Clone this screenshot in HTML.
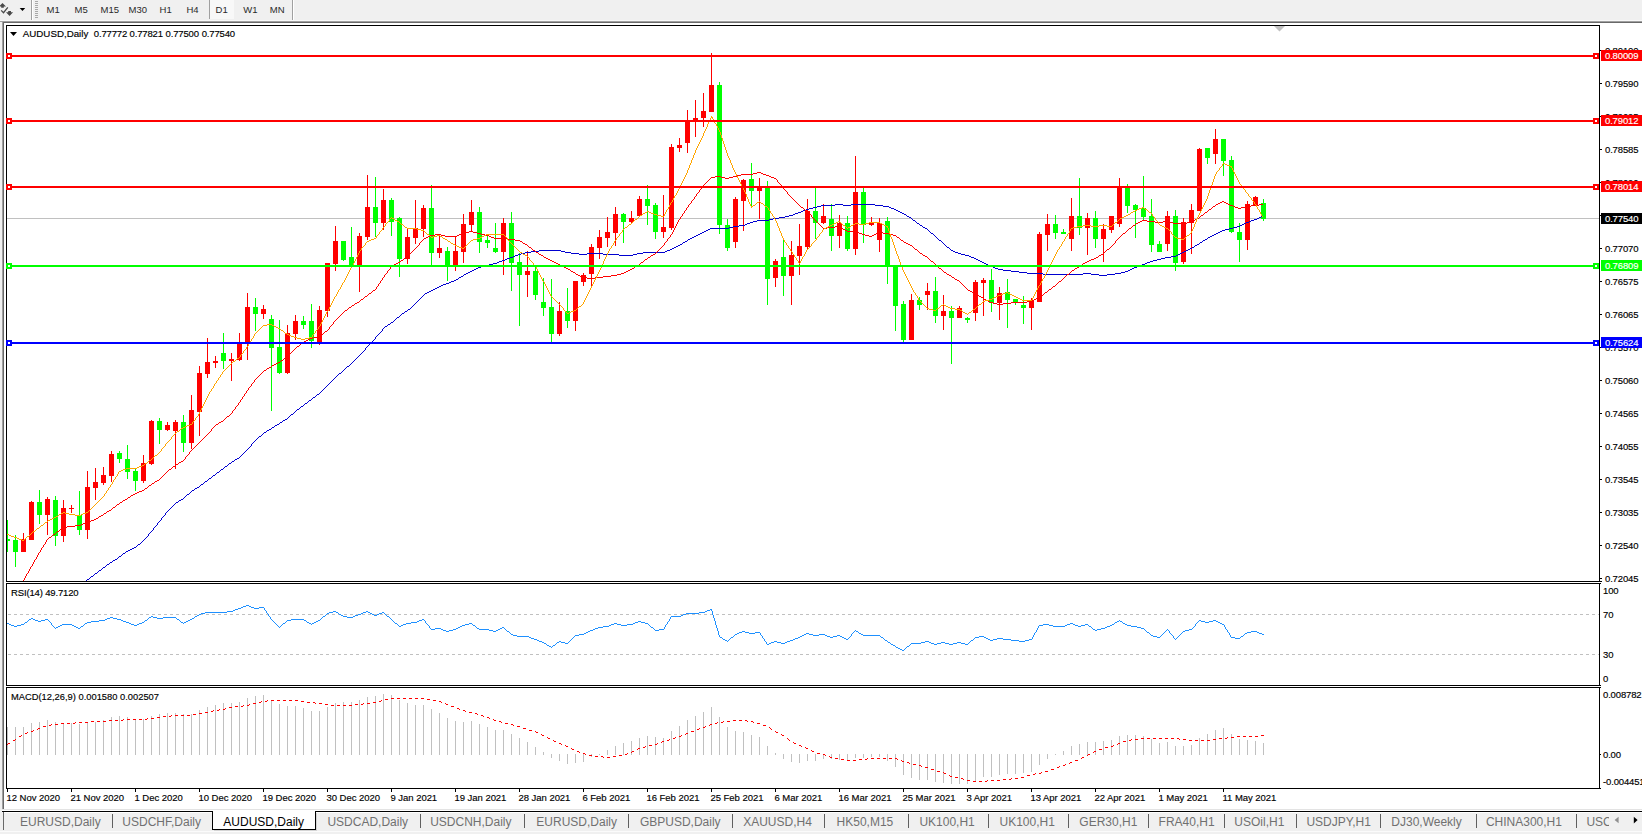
<!DOCTYPE html>
<html><head><meta charset="utf-8"><title>AUDUSD,Daily</title>
<style>
html,body{margin:0;padding:0;background:#f0f0f0;}
body{width:1642px;height:834px;overflow:hidden;position:relative;font-family:"Liberation Sans", sans-serif;}
svg{position:absolute;left:0;top:0;display:block}
text{font-family:"Liberation Sans", sans-serif;}
.s{font-size:9.5px;fill:#000;stroke:#000;stroke-width:0.15px}
.d{letter-spacing:-0.15px}
.tb{font-size:9.5px;fill:#2a2a2a}
.tab{font-size:12px;fill:#707070}
.w{fill:#fff;stroke:#fff}
</style></head><body>
<svg width="1642" height="834" viewBox="0 0 1642 834">

<g shape-rendering="crispEdges">
<rect x="0" y="0" width="1642" height="834" fill="#f0f0f0" />
<rect x="0" y="20" width="1642" height="1" fill="#f8f8f8" />
<rect x="0" y="21" width="1642" height="1" fill="#a0a0a0" />
<rect x="2" y="22" width="1640" height="1" fill="#696969" />
<rect x="4" y="23" width="1638" height="786" fill="#ffffff" />
<rect x="2" y="22" width="1" height="787" fill="#a0a0a0" />
<rect x="3" y="22" width="1" height="787" fill="#696969" />
<rect x="2" y="809" width="1640" height="1" fill="#e3e3e3" />
<rect x="2" y="810" width="1640" height="1" fill="#ffffff" />
<rect x="31" y="0" width="1" height="20" fill="#a0a0a0" />
<rect x="32" y="0" width="1" height="20" fill="#ffffff" />
<rect x="292" y="0" width="1" height="20" fill="#a0a0a0" />
<rect x="293" y="0" width="1" height="20" fill="#ffffff" />
<rect x="35" y="1" width="3" height="1" fill="#a8a8a8" />
<rect x="35" y="3" width="3" height="1" fill="#a8a8a8" />
<rect x="35" y="5" width="3" height="1" fill="#a8a8a8" />
<rect x="35" y="7" width="3" height="1" fill="#a8a8a8" />
<rect x="35" y="9" width="3" height="1" fill="#a8a8a8" />
<rect x="35" y="11" width="3" height="1" fill="#a8a8a8" />
<rect x="35" y="13" width="3" height="1" fill="#a8a8a8" />
<rect x="35" y="15" width="3" height="1" fill="#a8a8a8" />
<rect x="35" y="17" width="3" height="1" fill="#a8a8a8" />
<rect x="209" y="0" width="1" height="19" fill="#a0a0a0" />
<rect x="210" y="0" width="24" height="19" fill="#f8f8f8" />
<rect x="6" y="25" width="1594" height="1" fill="#000" />
<rect x="6" y="581" width="1594" height="1" fill="#000" />
<rect x="6" y="25" width="1" height="557" fill="#000" />
<rect x="1599" y="25" width="1" height="557" fill="#000" />
<rect x="6" y="583" width="1594" height="1" fill="#000" />
<rect x="6" y="685" width="1594" height="1" fill="#000" />
<rect x="6" y="583" width="1" height="103" fill="#000" />
<rect x="1599" y="583" width="1" height="103" fill="#000" />
<rect x="6" y="687" width="1594" height="1" fill="#000" />
<rect x="6" y="788" width="1594" height="1" fill="#000" />
<rect x="6" y="687" width="1" height="102" fill="#000" />
<rect x="1599" y="687" width="1" height="102" fill="#000" />
<rect x="1600" y="581" width="2" height="1" fill="#000" />
<rect x="1600" y="583" width="1" height="1" fill="#000" />
<rect x="1600" y="685" width="1" height="1" fill="#000" />
<rect x="1600" y="687" width="1" height="1" fill="#000" />
<rect x="1600" y="788" width="1" height="1" fill="#000" />
<rect x="1600" y="754" width="1" height="1" fill="#000" />
<polygon points="1274,26 1285,26 1279.5,31.5" fill="#c0c0c0" shape-rendering="geometricPrecision"/>
<rect x="7" y="218" width="1592" height="1" fill="#c0c0c0" />
<line x1="8" y1="614.5" x2="1599" y2="614.5" stroke="#c0c0c0" stroke-width="1" stroke-dasharray="3,3"/>
<line x1="8" y1="654.5" x2="1599" y2="654.5" stroke="#c0c0c0" stroke-width="1" stroke-dasharray="3,3"/>
<rect x="7" y="727" width="1" height="28" fill="#c0c0c0" />
<rect x="15" y="727" width="1" height="28" fill="#c0c0c0" />
<rect x="23" y="727" width="1" height="28" fill="#c0c0c0" />
<rect x="31" y="723" width="1" height="32" fill="#c0c0c0" />
<rect x="39" y="722" width="1" height="33" fill="#c0c0c0" />
<rect x="47" y="720" width="1" height="35" fill="#c0c0c0" />
<rect x="55" y="722" width="1" height="33" fill="#c0c0c0" />
<rect x="63" y="723" width="1" height="32" fill="#c0c0c0" />
<rect x="71" y="723" width="1" height="32" fill="#c0c0c0" />
<rect x="79" y="724" width="1" height="31" fill="#c0c0c0" />
<rect x="87" y="723" width="1" height="32" fill="#c0c0c0" />
<rect x="95" y="722" width="1" height="33" fill="#c0c0c0" />
<rect x="103" y="720" width="1" height="35" fill="#c0c0c0" />
<rect x="111" y="717" width="1" height="38" fill="#c0c0c0" />
<rect x="119" y="716" width="1" height="39" fill="#c0c0c0" />
<rect x="127" y="717" width="1" height="38" fill="#c0c0c0" />
<rect x="135" y="719" width="1" height="36" fill="#c0c0c0" />
<rect x="143" y="719" width="1" height="36" fill="#c0c0c0" />
<rect x="151" y="716" width="1" height="39" fill="#c0c0c0" />
<rect x="159" y="714" width="1" height="41" fill="#c0c0c0" />
<rect x="167" y="713" width="1" height="42" fill="#c0c0c0" />
<rect x="175" y="713" width="1" height="42" fill="#c0c0c0" />
<rect x="183" y="714" width="1" height="41" fill="#c0c0c0" />
<rect x="191" y="714" width="1" height="41" fill="#c0c0c0" />
<rect x="199" y="710" width="1" height="45" fill="#c0c0c0" />
<rect x="207" y="707" width="1" height="48" fill="#c0c0c0" />
<rect x="215" y="705" width="1" height="50" fill="#c0c0c0" />
<rect x="223" y="703" width="1" height="52" fill="#c0c0c0" />
<rect x="231" y="703" width="1" height="52" fill="#c0c0c0" />
<rect x="239" y="702" width="1" height="53" fill="#c0c0c0" />
<rect x="247" y="698" width="1" height="57" fill="#c0c0c0" />
<rect x="255" y="696" width="1" height="59" fill="#c0c0c0" />
<rect x="263" y="695" width="1" height="60" fill="#c0c0c0" />
<rect x="271" y="700" width="1" height="55" fill="#c0c0c0" />
<rect x="279" y="704" width="1" height="51" fill="#c0c0c0" />
<rect x="287" y="706" width="1" height="49" fill="#c0c0c0" />
<rect x="295" y="706" width="1" height="49" fill="#c0c0c0" />
<rect x="303" y="708" width="1" height="47" fill="#c0c0c0" />
<rect x="311" y="711" width="1" height="44" fill="#c0c0c0" />
<rect x="319" y="711" width="1" height="44" fill="#c0c0c0" />
<rect x="327" y="707" width="1" height="48" fill="#c0c0c0" />
<rect x="335" y="703" width="1" height="52" fill="#c0c0c0" />
<rect x="343" y="702" width="1" height="53" fill="#c0c0c0" />
<rect x="351" y="702" width="1" height="53" fill="#c0c0c0" />
<rect x="359" y="700" width="1" height="55" fill="#c0c0c0" />
<rect x="367" y="697" width="1" height="58" fill="#c0c0c0" />
<rect x="375" y="696" width="1" height="59" fill="#c0c0c0" />
<rect x="383" y="694" width="1" height="61" fill="#c0c0c0" />
<rect x="391" y="695" width="1" height="60" fill="#c0c0c0" />
<rect x="399" y="700" width="1" height="55" fill="#c0c0c0" />
<rect x="407" y="703" width="1" height="52" fill="#c0c0c0" />
<rect x="415" y="705" width="1" height="50" fill="#c0c0c0" />
<rect x="423" y="705" width="1" height="50" fill="#c0c0c0" />
<rect x="431" y="709" width="1" height="46" fill="#c0c0c0" />
<rect x="439" y="713" width="1" height="42" fill="#c0c0c0" />
<rect x="447" y="718" width="1" height="37" fill="#c0c0c0" />
<rect x="455" y="721" width="1" height="34" fill="#c0c0c0" />
<rect x="463" y="722" width="1" height="33" fill="#c0c0c0" />
<rect x="471" y="721" width="1" height="34" fill="#c0c0c0" />
<rect x="479" y="724" width="1" height="31" fill="#c0c0c0" />
<rect x="487" y="727" width="1" height="28" fill="#c0c0c0" />
<rect x="495" y="730" width="1" height="25" fill="#c0c0c0" />
<rect x="503" y="730" width="1" height="25" fill="#c0c0c0" />
<rect x="511" y="734" width="1" height="21" fill="#c0c0c0" />
<rect x="519" y="738" width="1" height="17" fill="#c0c0c0" />
<rect x="527" y="742" width="1" height="13" fill="#c0c0c0" />
<rect x="535" y="747" width="1" height="8" fill="#c0c0c0" />
<rect x="543" y="752" width="1" height="3" fill="#c0c0c0" />
<rect x="551" y="754" width="1" height="4" fill="#c0c0c0" />
<rect x="559" y="754" width="1" height="7" fill="#c0c0c0" />
<rect x="567" y="754" width="1" height="10" fill="#c0c0c0" />
<rect x="575" y="754" width="1" height="9" fill="#c0c0c0" />
<rect x="583" y="754" width="1" height="8" fill="#c0c0c0" />
<rect x="591" y="754" width="1" height="3" fill="#c0c0c0" />
<rect x="599" y="754" width="1" height="1" fill="#c0c0c0" />
<rect x="607" y="750" width="1" height="5" fill="#c0c0c0" />
<rect x="615" y="746" width="1" height="9" fill="#c0c0c0" />
<rect x="623" y="743" width="1" height="12" fill="#c0c0c0" />
<rect x="631" y="741" width="1" height="14" fill="#c0c0c0" />
<rect x="639" y="738" width="1" height="17" fill="#c0c0c0" />
<rect x="647" y="736" width="1" height="19" fill="#c0c0c0" />
<rect x="655" y="737" width="1" height="18" fill="#c0c0c0" />
<rect x="663" y="738" width="1" height="17" fill="#c0c0c0" />
<rect x="671" y="731" width="1" height="24" fill="#c0c0c0" />
<rect x="679" y="726" width="1" height="29" fill="#c0c0c0" />
<rect x="687" y="720" width="1" height="35" fill="#c0c0c0" />
<rect x="695" y="716" width="1" height="39" fill="#c0c0c0" />
<rect x="703" y="712" width="1" height="43" fill="#c0c0c0" />
<rect x="711" y="707" width="1" height="48" fill="#c0c0c0" />
<rect x="719" y="717" width="1" height="38" fill="#c0c0c0" />
<rect x="727" y="727" width="1" height="28" fill="#c0c0c0" />
<rect x="735" y="731" width="1" height="24" fill="#c0c0c0" />
<rect x="743" y="732" width="1" height="23" fill="#c0c0c0" />
<rect x="751" y="735" width="1" height="20" fill="#c0c0c0" />
<rect x="759" y="737" width="1" height="18" fill="#c0c0c0" />
<rect x="767" y="746" width="1" height="9" fill="#c0c0c0" />
<rect x="775" y="753" width="1" height="2" fill="#c0c0c0" />
<rect x="783" y="754" width="1" height="5" fill="#c0c0c0" />
<rect x="791" y="754" width="1" height="8" fill="#c0c0c0" />
<rect x="799" y="754" width="1" height="9" fill="#c0c0c0" />
<rect x="807" y="754" width="1" height="7" fill="#c0c0c0" />
<rect x="815" y="754" width="1" height="7" fill="#c0c0c0" />
<rect x="823" y="754" width="1" height="5" fill="#c0c0c0" />
<rect x="831" y="754" width="1" height="5" fill="#c0c0c0" />
<rect x="839" y="754" width="1" height="6" fill="#c0c0c0" />
<rect x="847" y="754" width="1" height="7" fill="#c0c0c0" />
<rect x="855" y="754" width="1" height="4" fill="#c0c0c0" />
<rect x="863" y="754" width="1" height="4" fill="#c0c0c0" />
<rect x="871" y="754" width="1" height="3" fill="#c0c0c0" />
<rect x="879" y="754" width="1" height="3" fill="#c0c0c0" />
<rect x="887" y="754" width="1" height="7" fill="#c0c0c0" />
<rect x="895" y="754" width="1" height="13" fill="#c0c0c0" />
<rect x="903" y="754" width="1" height="21" fill="#c0c0c0" />
<rect x="911" y="754" width="1" height="24" fill="#c0c0c0" />
<rect x="919" y="754" width="1" height="26" fill="#c0c0c0" />
<rect x="927" y="754" width="1" height="26" fill="#c0c0c0" />
<rect x="935" y="754" width="1" height="28" fill="#c0c0c0" />
<rect x="943" y="754" width="1" height="29" fill="#c0c0c0" />
<rect x="951" y="754" width="1" height="30" fill="#c0c0c0" />
<rect x="959" y="754" width="1" height="30" fill="#c0c0c0" />
<rect x="967" y="754" width="1" height="30" fill="#c0c0c0" />
<rect x="975" y="754" width="1" height="27" fill="#c0c0c0" />
<rect x="983" y="754" width="1" height="23" fill="#c0c0c0" />
<rect x="991" y="754" width="1" height="23" fill="#c0c0c0" />
<rect x="999" y="754" width="1" height="21" fill="#c0c0c0" />
<rect x="1007" y="754" width="1" height="20" fill="#c0c0c0" />
<rect x="1015" y="754" width="1" height="20" fill="#c0c0c0" />
<rect x="1023" y="754" width="1" height="19" fill="#c0c0c0" />
<rect x="1031" y="754" width="1" height="18" fill="#c0c0c0" />
<rect x="1039" y="754" width="1" height="11" fill="#c0c0c0" />
<rect x="1047" y="754" width="1" height="5" fill="#c0c0c0" />
<rect x="1055" y="754" width="1" height="1" fill="#c0c0c0" />
<rect x="1063" y="751" width="1" height="4" fill="#c0c0c0" />
<rect x="1071" y="746" width="1" height="9" fill="#c0c0c0" />
<rect x="1079" y="744" width="1" height="11" fill="#c0c0c0" />
<rect x="1087" y="742" width="1" height="13" fill="#c0c0c0" />
<rect x="1095" y="742" width="1" height="13" fill="#c0c0c0" />
<rect x="1103" y="741" width="1" height="14" fill="#c0c0c0" />
<rect x="1111" y="740" width="1" height="15" fill="#c0c0c0" />
<rect x="1119" y="736" width="1" height="19" fill="#c0c0c0" />
<rect x="1127" y="735" width="1" height="20" fill="#c0c0c0" />
<rect x="1135" y="735" width="1" height="20" fill="#c0c0c0" />
<rect x="1143" y="736" width="1" height="19" fill="#c0c0c0" />
<rect x="1151" y="739" width="1" height="16" fill="#c0c0c0" />
<rect x="1159" y="743" width="1" height="12" fill="#c0c0c0" />
<rect x="1167" y="742" width="1" height="13" fill="#c0c0c0" />
<rect x="1175" y="746" width="1" height="9" fill="#c0c0c0" />
<rect x="1183" y="746" width="1" height="9" fill="#c0c0c0" />
<rect x="1191" y="745" width="1" height="10" fill="#c0c0c0" />
<rect x="1199" y="738" width="1" height="17" fill="#c0c0c0" />
<rect x="1207" y="734" width="1" height="21" fill="#c0c0c0" />
<rect x="1215" y="730" width="1" height="25" fill="#c0c0c0" />
<rect x="1223" y="728" width="1" height="27" fill="#c0c0c0" />
<rect x="1231" y="734" width="1" height="21" fill="#c0c0c0" />
<rect x="1239" y="739" width="1" height="16" fill="#c0c0c0" />
<rect x="1247" y="740" width="1" height="15" fill="#c0c0c0" />
<rect x="1255" y="741" width="1" height="14" fill="#c0c0c0" />
<rect x="1263" y="743" width="1" height="12" fill="#c0c0c0" />
</g>
<defs><clipPath id="cm"><rect x="7" y="26" width="1592" height="555"/></clipPath></defs>
<g clip-path="url(#cm)" shape-rendering="crispEdges">
<rect x="7" y="520" width="1" height="32" fill="#00ff00" />
<rect x="5" y="539" width="5" height="2" fill="#00ff00" />
<rect x="15" y="535" width="1" height="32" fill="#00ff00" />
<rect x="13" y="540" width="5" height="12" fill="#00ff00" />
<rect x="23" y="533" width="1" height="19" fill="#ff0000" />
<rect x="21" y="539" width="5" height="13" fill="#ff0000" />
<rect x="31" y="501" width="1" height="39" fill="#ff0000" />
<rect x="29" y="502" width="5" height="38" fill="#ff0000" />
<rect x="39" y="490" width="1" height="34" fill="#00ff00" />
<rect x="37" y="502" width="5" height="13" fill="#00ff00" />
<rect x="47" y="497" width="1" height="38" fill="#ff0000" />
<rect x="45" y="499" width="5" height="16" fill="#ff0000" />
<rect x="55" y="496" width="1" height="50" fill="#00ff00" />
<rect x="53" y="500" width="5" height="36" fill="#00ff00" />
<rect x="63" y="500" width="1" height="42" fill="#ff0000" />
<rect x="61" y="508" width="5" height="28" fill="#ff0000" />
<rect x="71" y="505" width="1" height="8" fill="#ff0000" />
<rect x="69" y="508" width="5" height="1" fill="#ff0000" />
<rect x="79" y="491" width="1" height="44" fill="#00ff00" />
<rect x="77" y="515" width="5" height="15" fill="#00ff00" />
<rect x="87" y="471" width="1" height="68" fill="#ff0000" />
<rect x="85" y="487" width="5" height="43" fill="#ff0000" />
<rect x="95" y="468" width="1" height="32" fill="#ff0000" />
<rect x="93" y="482" width="5" height="6" fill="#ff0000" />
<rect x="103" y="467" width="1" height="18" fill="#ff0000" />
<rect x="101" y="475" width="5" height="8" fill="#ff0000" />
<rect x="111" y="451" width="1" height="31" fill="#ff0000" />
<rect x="109" y="454" width="5" height="22" fill="#ff0000" />
<rect x="119" y="451" width="1" height="12" fill="#00ff00" />
<rect x="117" y="453" width="5" height="6" fill="#00ff00" />
<rect x="127" y="445" width="1" height="34" fill="#00ff00" />
<rect x="125" y="459" width="5" height="13" fill="#00ff00" />
<rect x="135" y="469" width="1" height="22" fill="#00ff00" />
<rect x="133" y="471" width="5" height="10" fill="#00ff00" />
<rect x="143" y="455" width="1" height="28" fill="#ff0000" />
<rect x="141" y="463" width="5" height="18" fill="#ff0000" />
<rect x="151" y="420" width="1" height="45" fill="#ff0000" />
<rect x="149" y="421" width="5" height="43" fill="#ff0000" />
<rect x="159" y="418" width="1" height="26" fill="#00ff00" />
<rect x="157" y="421" width="5" height="9" fill="#00ff00" />
<rect x="167" y="422" width="1" height="9" fill="#ff0000" />
<rect x="165" y="425" width="5" height="5" fill="#ff0000" />
<rect x="175" y="420" width="1" height="49" fill="#ff0000" />
<rect x="173" y="422" width="5" height="9" fill="#ff0000" />
<rect x="183" y="415" width="1" height="37" fill="#00ff00" />
<rect x="181" y="422" width="5" height="21" fill="#00ff00" />
<rect x="191" y="395" width="1" height="54" fill="#ff0000" />
<rect x="189" y="410" width="5" height="33" fill="#ff0000" />
<rect x="199" y="366" width="1" height="70" fill="#ff0000" />
<rect x="197" y="373" width="5" height="39" fill="#ff0000" />
<rect x="207" y="338" width="1" height="40" fill="#ff0000" />
<rect x="205" y="362" width="5" height="12" fill="#ff0000" />
<rect x="215" y="356" width="1" height="12" fill="#ff0000" />
<rect x="213" y="361" width="5" height="2" fill="#ff0000" />
<rect x="223" y="333" width="1" height="36" fill="#00ff00" />
<rect x="221" y="353" width="5" height="8" fill="#00ff00" />
<rect x="231" y="353" width="1" height="28" fill="#ff0000" />
<rect x="229" y="359" width="5" height="2" fill="#ff0000" />
<rect x="239" y="333" width="1" height="28" fill="#ff0000" />
<rect x="237" y="344" width="5" height="16" fill="#ff0000" />
<rect x="247" y="293" width="1" height="67" fill="#ff0000" />
<rect x="245" y="307" width="5" height="37" fill="#ff0000" />
<rect x="255" y="298" width="1" height="33" fill="#00ff00" />
<rect x="253" y="307" width="5" height="7" fill="#00ff00" />
<rect x="263" y="305" width="1" height="14" fill="#ff0000" />
<rect x="261" y="309" width="5" height="5" fill="#ff0000" />
<rect x="271" y="315" width="1" height="96" fill="#00ff00" />
<rect x="269" y="319" width="5" height="29" fill="#00ff00" />
<rect x="279" y="320" width="1" height="54" fill="#00ff00" />
<rect x="277" y="347" width="5" height="26" fill="#00ff00" />
<rect x="287" y="325" width="1" height="49" fill="#ff0000" />
<rect x="285" y="333" width="5" height="40" fill="#ff0000" />
<rect x="295" y="315" width="1" height="25" fill="#ff0000" />
<rect x="293" y="321" width="5" height="13" fill="#ff0000" />
<rect x="303" y="316" width="1" height="13" fill="#00ff00" />
<rect x="301" y="321" width="5" height="4" fill="#00ff00" />
<rect x="311" y="304" width="1" height="44" fill="#00ff00" />
<rect x="309" y="321" width="5" height="20" fill="#00ff00" />
<rect x="319" y="306" width="1" height="39" fill="#ff0000" />
<rect x="317" y="310" width="5" height="32" fill="#ff0000" />
<rect x="327" y="263" width="1" height="54" fill="#ff0000" />
<rect x="325" y="263" width="5" height="48" fill="#ff0000" />
<rect x="335" y="226" width="1" height="45" fill="#ff0000" />
<rect x="333" y="241" width="5" height="23" fill="#ff0000" />
<rect x="343" y="241" width="1" height="20" fill="#00ff00" />
<rect x="341" y="241" width="5" height="19" fill="#00ff00" />
<rect x="351" y="227" width="1" height="40" fill="#00ff00" />
<rect x="349" y="257" width="5" height="9" fill="#00ff00" />
<rect x="359" y="233" width="1" height="59" fill="#ff0000" />
<rect x="357" y="236" width="5" height="29" fill="#ff0000" />
<rect x="367" y="175" width="1" height="65" fill="#ff0000" />
<rect x="365" y="207" width="5" height="30" fill="#ff0000" />
<rect x="375" y="177" width="1" height="60" fill="#00ff00" />
<rect x="373" y="207" width="5" height="16" fill="#00ff00" />
<rect x="383" y="189" width="1" height="41" fill="#ff0000" />
<rect x="381" y="200" width="5" height="23" fill="#ff0000" />
<rect x="391" y="198" width="1" height="38" fill="#00ff00" />
<rect x="389" y="200" width="5" height="22" fill="#00ff00" />
<rect x="399" y="217" width="1" height="60" fill="#00ff00" />
<rect x="397" y="218" width="5" height="41" fill="#00ff00" />
<rect x="407" y="228" width="1" height="36" fill="#ff0000" />
<rect x="405" y="237" width="5" height="22" fill="#ff0000" />
<rect x="415" y="200" width="1" height="44" fill="#ff0000" />
<rect x="413" y="228" width="5" height="10" fill="#ff0000" />
<rect x="423" y="205" width="1" height="32" fill="#ff0000" />
<rect x="421" y="208" width="5" height="21" fill="#ff0000" />
<rect x="431" y="185" width="1" height="81" fill="#00ff00" />
<rect x="429" y="208" width="5" height="45" fill="#00ff00" />
<rect x="439" y="236" width="1" height="22" fill="#ff0000" />
<rect x="437" y="248" width="5" height="5" fill="#ff0000" />
<rect x="447" y="247" width="1" height="34" fill="#00ff00" />
<rect x="445" y="251" width="5" height="15" fill="#00ff00" />
<rect x="455" y="236" width="1" height="35" fill="#ff0000" />
<rect x="453" y="251" width="5" height="15" fill="#ff0000" />
<rect x="463" y="214" width="1" height="49" fill="#ff0000" />
<rect x="461" y="224" width="5" height="28" fill="#ff0000" />
<rect x="471" y="200" width="1" height="31" fill="#ff0000" />
<rect x="469" y="212" width="5" height="13" fill="#ff0000" />
<rect x="479" y="207" width="1" height="46" fill="#00ff00" />
<rect x="477" y="212" width="5" height="30" fill="#00ff00" />
<rect x="487" y="236" width="1" height="12" fill="#00ff00" />
<rect x="485" y="240" width="5" height="3" fill="#00ff00" />
<rect x="495" y="223" width="1" height="30" fill="#00ff00" />
<rect x="493" y="248" width="5" height="4" fill="#00ff00" />
<rect x="503" y="218" width="1" height="57" fill="#ff0000" />
<rect x="501" y="223" width="5" height="29" fill="#ff0000" />
<rect x="511" y="212" width="1" height="79" fill="#00ff00" />
<rect x="509" y="223" width="5" height="40" fill="#00ff00" />
<rect x="519" y="253" width="1" height="73" fill="#00ff00" />
<rect x="517" y="262" width="5" height="13" fill="#00ff00" />
<rect x="527" y="251" width="1" height="46" fill="#ff0000" />
<rect x="525" y="271" width="5" height="4" fill="#ff0000" />
<rect x="535" y="267" width="1" height="33" fill="#00ff00" />
<rect x="533" y="271" width="5" height="24" fill="#00ff00" />
<rect x="543" y="278" width="1" height="38" fill="#00ff00" />
<rect x="541" y="302" width="5" height="6" fill="#00ff00" />
<rect x="551" y="279" width="1" height="63" fill="#00ff00" />
<rect x="549" y="307" width="5" height="27" fill="#00ff00" />
<rect x="559" y="302" width="1" height="34" fill="#ff0000" />
<rect x="557" y="311" width="5" height="23" fill="#ff0000" />
<rect x="567" y="288" width="1" height="40" fill="#00ff00" />
<rect x="565" y="311" width="5" height="10" fill="#00ff00" />
<rect x="575" y="281" width="1" height="50" fill="#ff0000" />
<rect x="573" y="281" width="5" height="40" fill="#ff0000" />
<rect x="583" y="273" width="1" height="13" fill="#ff0000" />
<rect x="581" y="275" width="5" height="7" fill="#ff0000" />
<rect x="591" y="244" width="1" height="43" fill="#ff0000" />
<rect x="589" y="247" width="5" height="27" fill="#ff0000" />
<rect x="599" y="230" width="1" height="29" fill="#ff0000" />
<rect x="597" y="237" width="5" height="11" fill="#ff0000" />
<rect x="607" y="217" width="1" height="30" fill="#ff0000" />
<rect x="605" y="232" width="5" height="6" fill="#ff0000" />
<rect x="615" y="207" width="1" height="39" fill="#ff0000" />
<rect x="613" y="214" width="5" height="19" fill="#ff0000" />
<rect x="623" y="213" width="1" height="30" fill="#00ff00" />
<rect x="621" y="214" width="5" height="8" fill="#00ff00" />
<rect x="631" y="211" width="1" height="13" fill="#ff0000" />
<rect x="629" y="218" width="5" height="4" fill="#ff0000" />
<rect x="639" y="196" width="1" height="20" fill="#ff0000" />
<rect x="637" y="199" width="5" height="17" fill="#ff0000" />
<rect x="647" y="185" width="1" height="40" fill="#00ff00" />
<rect x="645" y="199" width="5" height="7" fill="#00ff00" />
<rect x="655" y="203" width="1" height="36" fill="#00ff00" />
<rect x="653" y="205" width="5" height="27" fill="#00ff00" />
<rect x="663" y="195" width="1" height="43" fill="#ff0000" />
<rect x="661" y="227" width="5" height="5" fill="#ff0000" />
<rect x="671" y="144" width="1" height="86" fill="#ff0000" />
<rect x="669" y="147" width="5" height="81" fill="#ff0000" />
<rect x="679" y="138" width="1" height="14" fill="#ff0000" />
<rect x="677" y="145" width="5" height="3" fill="#ff0000" />
<rect x="687" y="110" width="1" height="43" fill="#ff0000" />
<rect x="685" y="121" width="5" height="22" fill="#ff0000" />
<rect x="695" y="100" width="1" height="37" fill="#ff0000" />
<rect x="693" y="118" width="5" height="3" fill="#ff0000" />
<rect x="703" y="93" width="1" height="34" fill="#ff0000" />
<rect x="701" y="111" width="5" height="7" fill="#ff0000" />
<rect x="711" y="53" width="1" height="59" fill="#ff0000" />
<rect x="709" y="85" width="5" height="27" fill="#ff0000" />
<rect x="719" y="82" width="1" height="152" fill="#00ff00" />
<rect x="717" y="85" width="5" height="140" fill="#00ff00" />
<rect x="727" y="219" width="1" height="32" fill="#00ff00" />
<rect x="725" y="225" width="5" height="23" fill="#00ff00" />
<rect x="735" y="197" width="1" height="51" fill="#ff0000" />
<rect x="733" y="199" width="5" height="43" fill="#ff0000" />
<rect x="743" y="179" width="1" height="52" fill="#ff0000" />
<rect x="741" y="180" width="5" height="21" fill="#ff0000" />
<rect x="751" y="163" width="1" height="45" fill="#00ff00" />
<rect x="749" y="179" width="5" height="12" fill="#00ff00" />
<rect x="759" y="178" width="1" height="41" fill="#ff0000" />
<rect x="757" y="186" width="5" height="5" fill="#ff0000" />
<rect x="767" y="181" width="1" height="124" fill="#00ff00" />
<rect x="765" y="188" width="5" height="91" fill="#00ff00" />
<rect x="775" y="259" width="1" height="28" fill="#ff0000" />
<rect x="773" y="261" width="5" height="17" fill="#ff0000" />
<rect x="783" y="239" width="1" height="57" fill="#00ff00" />
<rect x="781" y="257" width="5" height="19" fill="#00ff00" />
<rect x="791" y="241" width="1" height="64" fill="#ff0000" />
<rect x="789" y="255" width="5" height="21" fill="#ff0000" />
<rect x="799" y="224" width="1" height="51" fill="#ff0000" />
<rect x="797" y="246" width="5" height="10" fill="#ff0000" />
<rect x="807" y="199" width="1" height="51" fill="#ff0000" />
<rect x="805" y="211" width="5" height="36" fill="#ff0000" />
<rect x="815" y="188" width="1" height="51" fill="#00ff00" />
<rect x="813" y="211" width="5" height="12" fill="#00ff00" />
<rect x="823" y="204" width="1" height="20" fill="#ff0000" />
<rect x="821" y="216" width="5" height="7" fill="#ff0000" />
<rect x="831" y="204" width="1" height="47" fill="#00ff00" />
<rect x="829" y="219" width="5" height="17" fill="#00ff00" />
<rect x="839" y="215" width="1" height="33" fill="#ff0000" />
<rect x="837" y="223" width="5" height="13" fill="#ff0000" />
<rect x="847" y="216" width="1" height="35" fill="#00ff00" />
<rect x="845" y="223" width="5" height="26" fill="#00ff00" />
<rect x="855" y="156" width="1" height="99" fill="#ff0000" />
<rect x="853" y="192" width="5" height="57" fill="#ff0000" />
<rect x="863" y="188" width="1" height="55" fill="#00ff00" />
<rect x="861" y="192" width="5" height="33" fill="#00ff00" />
<rect x="871" y="217" width="1" height="9" fill="#ff0000" />
<rect x="869" y="223" width="5" height="2" fill="#ff0000" />
<rect x="879" y="218" width="1" height="34" fill="#ff0000" />
<rect x="877" y="223" width="5" height="17" fill="#ff0000" />
<rect x="887" y="217" width="1" height="67" fill="#00ff00" />
<rect x="885" y="221" width="5" height="45" fill="#00ff00" />
<rect x="895" y="266" width="1" height="65" fill="#00ff00" />
<rect x="893" y="266" width="5" height="40" fill="#00ff00" />
<rect x="903" y="301" width="1" height="41" fill="#00ff00" />
<rect x="901" y="304" width="5" height="36" fill="#00ff00" />
<rect x="911" y="294" width="1" height="46" fill="#ff0000" />
<rect x="909" y="300" width="5" height="40" fill="#ff0000" />
<rect x="919" y="297" width="1" height="13" fill="#00ff00" />
<rect x="917" y="300" width="5" height="5" fill="#00ff00" />
<rect x="927" y="283" width="1" height="27" fill="#ff0000" />
<rect x="925" y="291" width="5" height="4" fill="#ff0000" />
<rect x="935" y="277" width="1" height="46" fill="#00ff00" />
<rect x="933" y="291" width="5" height="25" fill="#00ff00" />
<rect x="943" y="295" width="1" height="35" fill="#ff0000" />
<rect x="941" y="311" width="5" height="5" fill="#ff0000" />
<rect x="951" y="306" width="1" height="58" fill="#00ff00" />
<rect x="949" y="311" width="5" height="7" fill="#00ff00" />
<rect x="959" y="306" width="1" height="12" fill="#ff0000" />
<rect x="957" y="308" width="5" height="10" fill="#ff0000" />
<rect x="967" y="317" width="1" height="6" fill="#00ff00" />
<rect x="965" y="318" width="5" height="2" fill="#00ff00" />
<rect x="975" y="280" width="1" height="41" fill="#ff0000" />
<rect x="973" y="282" width="5" height="31" fill="#ff0000" />
<rect x="983" y="278" width="1" height="38" fill="#ff0000" />
<rect x="981" y="280" width="5" height="3" fill="#ff0000" />
<rect x="991" y="269" width="1" height="43" fill="#00ff00" />
<rect x="989" y="280" width="5" height="23" fill="#00ff00" />
<rect x="999" y="287" width="1" height="33" fill="#ff0000" />
<rect x="997" y="293" width="5" height="10" fill="#ff0000" />
<rect x="1007" y="279" width="1" height="49" fill="#00ff00" />
<rect x="1005" y="292" width="5" height="8" fill="#00ff00" />
<rect x="1015" y="299" width="1" height="6" fill="#00ff00" />
<rect x="1013" y="299" width="5" height="4" fill="#00ff00" />
<rect x="1023" y="296" width="1" height="28" fill="#00ff00" />
<rect x="1021" y="305" width="5" height="3" fill="#00ff00" />
<rect x="1031" y="298" width="1" height="32" fill="#ff0000" />
<rect x="1029" y="301" width="5" height="7" fill="#ff0000" />
<rect x="1039" y="232" width="1" height="70" fill="#ff0000" />
<rect x="1037" y="234" width="5" height="68" fill="#ff0000" />
<rect x="1047" y="214" width="1" height="37" fill="#ff0000" />
<rect x="1045" y="224" width="5" height="11" fill="#ff0000" />
<rect x="1055" y="215" width="1" height="24" fill="#00ff00" />
<rect x="1053" y="224" width="5" height="9" fill="#00ff00" />
<rect x="1063" y="229" width="1" height="5" fill="#00ff00" />
<rect x="1061" y="232" width="5" height="2" fill="#00ff00" />
<rect x="1071" y="198" width="1" height="53" fill="#ff0000" />
<rect x="1069" y="216" width="5" height="23" fill="#ff0000" />
<rect x="1079" y="178" width="1" height="57" fill="#00ff00" />
<rect x="1077" y="216" width="5" height="12" fill="#00ff00" />
<rect x="1087" y="213" width="1" height="42" fill="#ff0000" />
<rect x="1085" y="218" width="5" height="10" fill="#ff0000" />
<rect x="1095" y="211" width="1" height="37" fill="#00ff00" />
<rect x="1093" y="218" width="5" height="21" fill="#00ff00" />
<rect x="1103" y="224" width="1" height="38" fill="#ff0000" />
<rect x="1101" y="229" width="5" height="10" fill="#ff0000" />
<rect x="1111" y="216" width="1" height="17" fill="#ff0000" />
<rect x="1109" y="216" width="5" height="14" fill="#ff0000" />
<rect x="1119" y="178" width="1" height="49" fill="#ff0000" />
<rect x="1117" y="187" width="5" height="37" fill="#ff0000" />
<rect x="1127" y="184" width="1" height="29" fill="#00ff00" />
<rect x="1125" y="188" width="5" height="18" fill="#00ff00" />
<rect x="1135" y="204" width="1" height="34" fill="#00ff00" />
<rect x="1133" y="205" width="5" height="5" fill="#00ff00" />
<rect x="1143" y="176" width="1" height="45" fill="#00ff00" />
<rect x="1141" y="208" width="5" height="9" fill="#00ff00" />
<rect x="1151" y="199" width="1" height="53" fill="#00ff00" />
<rect x="1149" y="216" width="5" height="29" fill="#00ff00" />
<rect x="1159" y="241" width="1" height="11" fill="#00ff00" />
<rect x="1157" y="244" width="5" height="8" fill="#00ff00" />
<rect x="1167" y="211" width="1" height="40" fill="#ff0000" />
<rect x="1165" y="216" width="5" height="28" fill="#ff0000" />
<rect x="1175" y="210" width="1" height="61" fill="#00ff00" />
<rect x="1173" y="216" width="5" height="47" fill="#00ff00" />
<rect x="1183" y="218" width="1" height="46" fill="#ff0000" />
<rect x="1181" y="222" width="5" height="40" fill="#ff0000" />
<rect x="1191" y="204" width="1" height="50" fill="#ff0000" />
<rect x="1189" y="210" width="5" height="13" fill="#ff0000" />
<rect x="1199" y="148" width="1" height="63" fill="#ff0000" />
<rect x="1197" y="149" width="5" height="62" fill="#ff0000" />
<rect x="1207" y="148" width="1" height="16" fill="#00ff00" />
<rect x="1205" y="148" width="5" height="10" fill="#00ff00" />
<rect x="1215" y="129" width="1" height="35" fill="#ff0000" />
<rect x="1213" y="139" width="5" height="15" fill="#ff0000" />
<rect x="1223" y="139" width="1" height="37" fill="#00ff00" />
<rect x="1221" y="139" width="5" height="22" fill="#00ff00" />
<rect x="1231" y="156" width="1" height="77" fill="#00ff00" />
<rect x="1229" y="160" width="5" height="72" fill="#00ff00" />
<rect x="1239" y="223" width="1" height="39" fill="#00ff00" />
<rect x="1237" y="232" width="5" height="8" fill="#00ff00" />
<rect x="1247" y="201" width="1" height="49" fill="#ff0000" />
<rect x="1245" y="204" width="5" height="36" fill="#ff0000" />
<rect x="1255" y="196" width="1" height="9" fill="#ff0000" />
<rect x="1253" y="197" width="5" height="8" fill="#ff0000" />
<rect x="1263" y="199" width="1" height="22" fill="#00ff00" />
<rect x="1261" y="203" width="5" height="16" fill="#00ff00" />
<path d="M382 329h1v2h-1zM365 348h1v2h-1zM165 513h1v2h-1zM157 523h1v2h-1zM153 528h1v2h-1zM251 444h1v2h-1zM161 518h1v2h-1zM148 534h1v2h-1zM375 337h1v2h-1zM518 254h3v1h-3zM579 254h8v1h-8zM603 254h16v1h-16zM633 254h4v1h-4zM961 254h4v1h-4zM1178 254h2v1h-2zM464 274h2v1h-2zM1043 274h40v1h-40zM1091 274h8v1h-8zM1107 274h8v1h-8zM696 235h2v1h-2zM934 235h1v1h-1zM1212 235h2v1h-2zM478 267h3v1h-3zM993 267h2v1h-2zM1134 267h3v1h-3zM295 411h1v1h-1zM817 206h4v1h-4zM883 206h6v1h-6zM283 420h2v1h-2zM413 305h1v1h-1zM704 231h2v1h-2zM929 231h1v1h-1zM1220 231h2v1h-2zM779 217h6v1h-6zM909 217h2v1h-2zM1259 217h2v1h-2zM466 273h2v1h-2zM1027 273h16v1h-16zM1083 273h8v1h-8zM1115 273h6v1h-6zM370 343h1v1h-1zM525 252h6v1h-6zM565 252h6v1h-6zM643 252h22v1h-22zM955 252h3v1h-3zM1182 252h2v1h-2zM197 487h2v1h-2zM435 288h2v1h-2zM795 213h3v1h-3zM902 213h2v1h-2zM499 261h3v1h-3zM980 261h2v1h-2zM1150 261h3v1h-3zM472 270h2v1h-2zM1003 270h8v1h-8zM1128 270h2v1h-2zM702 232h2v1h-2zM930 232h1v1h-1zM1218 232h2v1h-2zM773 218h6v1h-6zM911 218h1v1h-1zM1257 218h2v1h-2zM288 417h1v1h-1zM539 250h22v1h-22zM667 250h3v1h-3zM951 250h2v1h-2zM1186 250h2v1h-2zM339 373h2v1h-2zM502 260h3v1h-3zM978 260h2v1h-2zM1153 260h4v1h-4zM835 204h8v1h-8zM851 204h24v1h-24zM700 233h2v1h-2zM931 233h2v1h-2zM1216 233h2v1h-2zM733 226h6v1h-6zM922 226h1v1h-1zM1237 226h3v1h-3zM470 271h2v1h-2zM1011 271h8v1h-8zM1125 271h3v1h-3zM793 214h2v1h-2zM904 214h2v1h-2zM729 227h4v1h-4zM923 227h2v1h-2zM1233 227h4v1h-4zM105 566h1v1h-1zM245 451h1v1h-1zM789 215h4v1h-4zM906 215h1v1h-1zM710 228h19v1h-19zM925 228h2v1h-2zM1229 228h4v1h-4zM801 211h2v1h-2zM898 211h2v1h-2zM757 220h12v1h-12zM913 220h2v1h-2zM1251 220h3v1h-3zM813 207h4v1h-4zM889 207h2v1h-2zM163 516h1v1h-1zM117 558h1v1h-1zM468 272h2v1h-2zM1019 272h8v1h-8zM1121 272h4v1h-4zM505 259h2v1h-2zM976 259h2v1h-2zM1157 259h4v1h-4zM769 219h4v1h-4zM912 219h1v1h-1zM1254 219h3v1h-3zM109 563h1v1h-1zM672 248h2v1h-2zM949 248h1v1h-1zM1190 248h2v1h-2zM531 251h8v1h-8zM561 251h4v1h-4zM665 251h2v1h-2zM953 251h2v1h-2zM1184 251h2v1h-2zM688 239h2v1h-2zM938 239h1v1h-1zM1205 239h2v1h-2zM128 550h2v1h-2zM513 256h2v1h-2zM969 256h2v1h-2zM1171 256h5v1h-5zM680 244h2v1h-2zM944 244h1v1h-1zM1197 244h2v1h-2zM121 555h1v1h-1zM821 205h14v1h-14zM843 205h8v1h-8zM875 205h8v1h-8zM327 385h1v1h-1zM362 352h1v1h-1zM739 225h6v1h-6zM920 225h2v1h-2zM1240 225h2v1h-2zM485 265h4v1h-4zM988 265h2v1h-2zM1139 265h3v1h-3zM113 560h2v1h-2zM155 526h1v1h-1zM385 326h2v1h-2zM456 279h2v1h-2zM521 253h4v1h-4zM571 253h8v1h-8zM587 253h16v1h-16zM637 253h6v1h-6zM958 253h3v1h-3zM1180 253h2v1h-2zM275 425h2v1h-2zM806 209h3v1h-3zM894 209h2v1h-2zM264 432h2v1h-2zM134 547h2v1h-2zM205 481h2v1h-2zM190 492h1v1h-1zM235 459h2v1h-2zM299 408h1v1h-1zM497 262h2v1h-2zM982 262h2v1h-2zM1147 262h3v1h-3zM692 237h2v1h-2zM936 237h1v1h-1zM1208 237h2v1h-2zM474 269h2v1h-2zM998 269h5v1h-5zM1130 269h2v1h-2zM420 298h1v1h-1zM683 242h2v1h-2zM942 242h1v1h-1zM1200 242h2v1h-2zM676 246h2v1h-2zM946 246h1v1h-1zM1194 246h1v1h-1zM280 422h2v1h-2zM201 484h2v1h-2zM346 367h1v1h-1zM138 544h2v1h-2zM272 427h2v1h-2zM194 489h1v1h-1zM257 438h1v1h-1zM303 405h1v1h-1zM431 290h2v1h-2zM183 498h1v1h-1zM291 414h2v1h-2zM515 255h3v1h-3zM619 255h14v1h-14zM965 255h4v1h-4zM1176 255h2v1h-2zM175 503h1v1h-1zM698 234h2v1h-2zM933 234h1v1h-1zM1214 234h2v1h-2zM350 364h1v1h-1zM463 275h1v1h-1zM1099 275h8v1h-8zM261 435h1v1h-1zM307 402h1v1h-1zM427 292h2v1h-2zM330 382h1v1h-1zM694 236h2v1h-2zM935 236h1v1h-1zM1210 236h2v1h-2zM451 281h3v1h-3zM745 224h2v1h-2zM919 224h1v1h-1zM1242 224h2v1h-2zM489 264h4v1h-4zM986 264h2v1h-2zM1142 264h3v1h-3zM476 268h2v1h-2zM995 268h3v1h-3zM1132 268h2v1h-2zM750 222h3v1h-3zM916 222h1v1h-1zM1246 222h3v1h-3zM708 229h2v1h-2zM927 229h1v1h-1zM1225 229h4v1h-4zM400 315h1v1h-1zM388 324h2v1h-2zM507 258h3v1h-3zM974 258h2v1h-2zM1161 258h4v1h-4zM446 283h3v1h-3zM404 312h1v1h-1zM151 531h1v1h-1zM393 321h1v1h-1zM249 447h1v1h-1zM809 208h4v1h-4zM891 208h3v1h-3zM674 247h2v1h-2zM947 247h2v1h-2zM1192 247h2v1h-2zM209 478h2v1h-2zM317 394h2v1h-2zM240 456h1v1h-1zM481 266h4v1h-4zM990 266h3v1h-3zM1137 266h2v1h-2zM130 549h2v1h-2zM91 576h2v1h-2zM232 461h2v1h-2zM510 257h3v1h-3zM971 257h3v1h-3zM1165 257h6v1h-6zM785 216h4v1h-4zM907 216h2v1h-2zM1261 216h2v1h-2zM115 559h2v1h-2zM213 475h2v1h-2zM461 276h2v1h-2zM670 249h2v1h-2zM950 249h1v1h-1zM1188 249h2v1h-2zM126 551h2v1h-2zM217 472h2v1h-2zM357 357h1v1h-1zM377 335h1v1h-1zM311 399h1v1h-1zM85 581h1v1h-1zM424 294h1v1h-1zM337 375h1v1h-1zM706 230h2v1h-2zM928 230h1v1h-1zM1222 230h3v1h-3zM798 212h3v1h-3zM900 212h2v1h-2zM690 238h2v1h-2zM937 238h1v1h-1zM1207 238h1v1h-1zM255 440h1v1h-1zM176 502h2v1h-2zM415 303h1v1h-1zM341 372h1v1h-1zM252 443h1v1h-1zM170 508h1v1h-1zM408 309h2v1h-2zM334 378h1v1h-1zM803 210h3v1h-3zM896 210h2v1h-2zM412 306h1v1h-1zM325 387h1v1h-1zM107 564h2v1h-2zM380 332h1v1h-1zM95 573h2v1h-2zM449 282h2v1h-2zM119 556h2v1h-2zM458 278h1v1h-1zM99 570h2v1h-2zM146 537h1v1h-1zM493 263h4v1h-4zM984 263h2v1h-2zM1145 263h2v1h-2zM123 553h2v1h-2zM221 469h2v1h-2zM364 350h1v1h-1zM753 221h4v1h-4zM915 221h1v1h-1zM1249 221h2v1h-2zM143 540h1v1h-1zM322 390h1v1h-1zM103 567h2v1h-2zM244 452h1v1h-1zM454 280h2v1h-2zM195 488h2v1h-2zM181 499h2v1h-2zM433 289h2v1h-2zM290 415h1v1h-1zM687 240h1v1h-1zM939 240h2v1h-2zM1203 240h2v1h-2zM678 245h2v1h-2zM945 245h1v1h-1zM1195 245h2v1h-2zM372 341h1v1h-1zM185 496h1v1h-1zM154 527h1v1h-1zM294 412h1v1h-1zM429 291h2v1h-2zM685 241h2v1h-2zM941 241h1v1h-1zM1202 241h1v1h-1zM352 362h1v1h-1zM189 493h1v1h-1zM297 409h2v1h-2zM419 299h1v1h-1zM149 533h1v1h-1zM247 449h1v1h-1zM443 284h3v1h-3zM402 313h2v1h-2zM391 322h2v1h-2zM162 517h1v1h-1zM395 319h1v1h-1zM329 383h1v1h-1zM200 485h1v1h-1zM137 545h1v1h-1zM192 490h2v1h-2zM301 406h2v1h-2zM223 468h1v1h-1zM422 296h1v1h-1zM204 482h1v1h-1zM259 436h2v1h-2zM305 403h2v1h-2zM227 465h1v1h-1zM425 293h2v1h-2zM208 479h1v1h-1zM271 428h1v1h-1zM239 457h1v1h-1zM263 433h1v1h-1zM367 346h1v1h-1zM172 506h1v1h-1zM399 316h1v1h-1zM336 376h1v1h-1zM141 542h1v1h-1zM98 571h1v1h-1zM459 277h2v1h-2zM242 454h1v1h-1zM125 552h1v1h-1zM102 568h1v1h-1zM309 400h2v1h-2zM231 462h1v1h-1zM212 476h1v1h-1zM682 243h1v1h-1zM943 243h1v1h-1zM1199 243h1v1h-1zM324 388h1v1h-1zM106 565h1v1h-1zM359 355h1v1h-1zM379 333h1v1h-1zM313 397h2v1h-2zM87 579h2v1h-2zM747 223h3v1h-3zM917 223h2v1h-2zM1244 223h2v1h-2zM118 557h1v1h-1zM179 500h2v1h-2zM417 301h1v1h-1zM374 339h1v1h-1zM343 370h1v1h-1zM156 525h1v1h-1zM254 441h1v1h-1zM285 419h2v1h-2zM277 424h2v1h-2zM441 285h2v1h-2zM269 429h2v1h-2zM289 416h1v1h-1zM169 509h1v1h-1zM414 304h1v1h-1zM164 515h1v1h-1zM110 562h2v1h-2zM331 381h1v1h-1zM145 538h1v1h-1zM246 450h1v1h-1zM390 323h1v1h-1zM315 396h1v1h-1zM89 578h1v1h-1zM187 494h2v1h-2zM296 410h1v1h-1zM319 393h1v1h-1zM199 486h1v1h-1zM437 287h2v1h-2zM191 491h1v1h-1zM300 407h1v1h-1zM421 297h1v1h-1zM369 344h1v1h-1zM397 317h2v1h-2zM394 320h1v1h-1zM159 521h1v1h-1zM225 466h2v1h-2zM354 360h1v1h-1zM136 546h1v1h-1zM93 575h1v1h-1zM237 458h2v1h-2zM229 463h2v1h-2zM347 366h2v1h-2zM140 543h1v1h-1zM381 331h1v1h-1zM97 572h1v1h-1zM241 455h1v1h-1zM304 404h1v1h-1zM132 548h2v1h-2zM101 569h1v1h-1zM287 418h1v1h-1zM167 511h1v1h-1zM279 423h1v1h-1zM345 368h1v1h-1zM256 439h1v1h-1zM366 347h1v1h-1zM401 314h1v1h-1zM338 374h1v1h-1zM416 302h1v1h-1zM405 311h2v1h-2zM361 353h1v1h-1zM112 561h1v1h-1zM147 536h1v1h-1zM326 386h1v1h-1zM248 448h1v1h-1zM174 504h1v1h-1zM349 365h1v1h-1zM439 286h2v1h-2zM267 430h2v1h-2zM178 501h1v1h-1zM373 340h1v1h-1zM342 371h1v1h-1zM171 507h1v1h-1zM423 295h1v1h-1zM384 327h1v1h-1zM407 310h1v1h-1zM333 379h1v1h-1zM216 473h1v1h-1zM356 358h1v1h-1zM220 470h1v1h-1zM243 453h1v1h-1zM376 336h1v1h-1zM186 495h1v1h-1zM158 522h1v1h-1zM224 467h1v1h-1zM353 361h1v1h-1zM371 342h1v1h-1zM150 532h1v1h-1zM293 413h1v1h-1zM411 307h1v1h-1zM166 512h1v1h-1zM396 318h1v1h-1zM122 554h1v1h-1zM321 391h1v1h-1zM142 541h1v1h-1zM228 464h1v1h-1zM360 354h1v1h-1zM203 483h1v1h-1zM258 437h1v1h-1zM184 497h1v1h-1zM344 369h1v1h-1zM368 345h1v1h-1zM262 434h1v1h-1zM173 505h1v1h-1zM282 421h1v1h-1zM274 426h1v1h-1zM328 384h1v1h-1zM363 351h1v1h-1zM250 446h1v1h-1zM383 328h1v1h-1zM207 480h1v1h-1zM351 363h1v1h-1zM308 401h1v1h-1zM418 300h1v1h-1zM211 477h1v1h-1zM266 431h1v1h-1zM312 398h1v1h-1zM378 334h1v1h-1zM160 520h1v1h-1zM215 474h1v1h-1zM335 377h1v1h-1zM152 530h1v1h-1zM253 442h1v1h-1zM168 510h1v1h-1zM332 380h1v1h-1zM387 325h1v1h-1zM410 308h1v1h-1zM323 389h1v1h-1zM358 356h1v1h-1zM86 580h1v1h-1zM316 395h1v1h-1zM144 539h1v1h-1zM90 577h1v1h-1zM234 460h1v1h-1zM219 471h1v1h-1zM320 392h1v1h-1zM355 359h1v1h-1zM94 574h1v1h-1z" fill="#0000d0"/>
<path d="M45 542h1v2h-1zM211 429h1v2h-1zM41 548h1v2h-1zM673 230h1v2h-1zM777 180h1v2h-1zM688 205h1v2h-1zM382 278h1v2h-1zM246 391h1v2h-1zM40 550h1v2h-1zM667 239h1v2h-1zM242 397h1v2h-1zM36 557h1v2h-1zM696 194h1v2h-1zM32 564h1v2h-1zM691 201h1v2h-1zM1115 241h1v2h-1zM185 457h1v2h-1zM25 576h1v2h-1zM702 186h1v2h-1zM781 185h1v2h-1zM387 271h1v2h-1zM251 384h1v2h-1zM672 232h1v2h-1zM390 267h1v2h-1zM238 403h1v2h-1zM680 217h1v2h-1zM676 224h1v2h-1zM46 540h1v2h-1zM30 567h1v2h-1zM675 226h1v2h-1zM189 452h1v2h-1zM26 574h1v2h-1zM380 281h1v2h-1zM811 215h1v2h-1zM684 211h1v2h-1zM419 243h1v2h-1zM329 327h1v2h-1zM384 275h1v2h-1zM235 407h1v2h-1zM378 284h1v2h-1zM674 228h1v2h-1zM38 553h1v2h-1zM670 235h1v2h-1zM333 322h1v2h-1zM34 560h1v2h-1zM240 400h1v2h-1zM694 197h1v2h-1zM37 555h1v2h-1zM33 562h1v2h-1zM29 569h1v2h-1zM787 192h1v2h-1zM664 243h1v2h-1zM43 545h1v2h-1zM699 190h1v2h-1zM248 388h1v2h-1zM244 394h1v2h-1zM677 222h1v2h-1zM28 571h1v2h-1zM24 578h1v2h-1zM376 287h1v2h-1zM682 214h1v2h-1zM678 220h1v2h-1zM254 380h1v2h-1zM232 411h1v2h-1zM686 208h1v2h-1zM133 494h2v1h-2zM823 228h4v1h-4zM842 228h1v1h-1zM1129 228h2v1h-2zM306 340h2v1h-2zM391 266h1v1h-1zM562 266h2v1h-2zM635 266h2v1h-2zM937 266h1v1h-1zM1079 266h1v1h-1zM398 262h2v1h-2zM554 262h2v1h-2zM641 262h2v1h-2zM933 262h1v1h-1zM1085 262h2v1h-2zM715 176h6v1h-6zM733 176h4v1h-4zM769 176h2v1h-2zM410 253h1v1h-1zM538 253h1v1h-1zM655 253h1v1h-1zM920 253h2v1h-2zM1103 253h1v1h-1zM741 174h12v1h-12zM763 174h3v1h-3zM421 241h1v1h-1zM520 241h2v1h-2zM666 241h1v1h-1zM903 241h1v1h-1zM325 331h2v1h-2zM216 424h2v1h-2zM469 231h4v1h-4zM847 231h10v1h-10zM1126 231h1v1h-1zM411 252h1v1h-1zM536 252h2v1h-2zM656 252h1v1h-1zM919 252h1v1h-1zM1104 252h1v1h-1zM965 287h1v1h-1zM1052 287h1v1h-1zM580 276h2v1h-2zM603 276h8v1h-8zM951 276h1v1h-1zM1065 276h1v1h-1zM412 251h1v1h-1zM535 251h1v1h-1zM657 251h1v1h-1zM918 251h1v1h-1zM1105 251h1v1h-1zM818 223h1v1h-1zM1136 223h2v1h-2zM1173 223h14v1h-14zM94 519h2v1h-2zM122 501h1v1h-1zM430 235h5v1h-5zM441 235h4v1h-4zM457 235h2v1h-2zM485 235h4v1h-4zM865 235h4v1h-4zM872 235h2v1h-2zM893 235h3v1h-3zM1121 235h1v1h-1zM359 301h1v1h-1zM988 301h2v1h-2zM1027 301h5v1h-5zM169 469h2v1h-2zM810 214h1v1h-1zM1203 214h1v1h-1zM83 523h3v1h-3zM822 227h1v1h-1zM827 227h8v1h-8zM840 227h2v1h-2zM1131 227h1v1h-1zM332 324h1v1h-1zM394 264h2v1h-2zM558 264h2v1h-2zM639 264h1v1h-1zM935 264h1v1h-1zM1082 264h1v1h-1zM52 535h1v1h-1zM697 193h1v1h-1zM753 173h4v1h-4zM761 173h2v1h-2zM435 234h6v1h-6zM459 234h3v1h-3zM481 234h4v1h-4zM671 234h1v1h-1zM862 234h3v1h-3zM874 234h2v1h-2zM889 234h4v1h-4zM1122 234h1v1h-1zM327 330h1v1h-1zM408 255h1v1h-1zM541 255h2v1h-2zM651 255h2v1h-2zM923 255h2v1h-2zM1099 255h2v1h-2zM218 423h1v1h-1zM357 302h2v1h-2zM990 302h3v1h-3zM1011 302h16v1h-16zM377 286h1v1h-1zM964 286h1v1h-1zM1053 286h2v1h-2zM407 256h1v1h-1zM543 256h1v1h-1zM650 256h1v1h-1zM925 256h2v1h-2zM1098 256h1v1h-1zM67 526h8v1h-8zM409 254h1v1h-1zM539 254h2v1h-2zM653 254h2v1h-2zM922 254h1v1h-1zM1101 254h2v1h-2zM689 204h1v1h-1zM798 204h1v1h-1zM1216 204h2v1h-2zM1228 204h2v1h-2zM1259 204h4v1h-4zM367 295h1v1h-1zM978 295h1v1h-1zM1041 295h2v1h-2zM416 247h1v1h-1zM529 247h2v1h-2zM661 247h1v1h-1zM913 247h1v1h-1zM1110 247h1v1h-1zM344 311h1v1h-1zM414 249h1v1h-1zM532 249h1v1h-1zM659 249h1v1h-1zM915 249h2v1h-2zM1107 249h2v1h-2zM44 544h1v1h-1zM703 185h1v1h-1zM587 278h8v1h-8zM954 278h1v1h-1zM1063 278h1v1h-1zM266 369h1v1h-1zM60 529h1v1h-1zM424 238h2v1h-2zM494 238h13v1h-13zM668 238h1v1h-1zM899 238h1v1h-1zM1118 238h1v1h-1zM711 177h4v1h-4zM721 177h4v1h-4zM729 177h4v1h-4zM771 177h3v1h-3zM418 245h1v1h-1zM527 245h1v1h-1zM663 245h1v1h-1zM910 245h2v1h-2zM1112 245h1v1h-1zM386 273h1v1h-1zM575 273h1v1h-1zM621 273h3v1h-3zM946 273h1v1h-1zM1069 273h1v1h-1zM687 207h1v1h-1zM801 207h2v1h-2zM1212 207h1v1h-1zM1235 207h3v1h-3zM1241 207h4v1h-4zM685 210h1v1h-1zM805 210h2v1h-2zM1208 210h1v1h-1zM817 222h1v1h-1zM1138 222h2v1h-2zM1155 222h8v1h-8zM1169 222h4v1h-4zM1187 222h5v1h-5zM361 299h2v1h-2zM984 299h2v1h-2zM1034 299h2v1h-2zM415 248h1v1h-1zM531 248h1v1h-1zM660 248h1v1h-1zM914 248h1v1h-1zM1109 248h1v1h-1zM960 282h1v1h-1zM1058 282h1v1h-1zM396 263h2v1h-2zM556 263h2v1h-2zM640 263h1v1h-1zM934 263h1v1h-1zM1083 263h2v1h-2zM128 497h2v1h-2zM175 465h1v1h-1zM566 268h2v1h-2zM632 268h2v1h-2zM939 268h2v1h-2zM1075 268h2v1h-2zM959 281h1v1h-1zM1059 281h2v1h-2zM428 236h2v1h-2zM445 236h12v1h-12zM489 236h2v1h-2zM869 236h3v1h-3zM896 236h1v1h-1zM1120 236h1v1h-1zM385 274h1v1h-1zM576 274h2v1h-2zM617 274h4v1h-4zM947 274h2v1h-2zM1067 274h2v1h-2zM101 515h2v1h-2zM291 352h1v1h-1zM147 487h1v1h-1zM267 368h2v1h-2zM401 260h2v1h-2zM550 260h2v1h-2zM644 260h1v1h-1zM930 260h1v1h-1zM1089 260h2v1h-2zM288 355h1v1h-1zM186 456h1v1h-1zM224 419h1v1h-1zM705 183h1v1h-1zM779 183h1v1h-1zM363 298h1v1h-1zM983 298h1v1h-1zM1036 298h2v1h-2zM349 307h2v1h-2zM795 201h1v1h-1zM1222 201h2v1h-2zM176 464h2v1h-2zM400 261h1v1h-1zM552 261h2v1h-2zM643 261h1v1h-1zM931 261h2v1h-2zM1087 261h2v1h-2zM405 257h2v1h-2zM544 257h2v1h-2zM648 257h2v1h-2zM927 257h1v1h-1zM1096 257h2v1h-2zM276 363h2v1h-2zM690 203h1v1h-1zM797 203h1v1h-1zM1218 203h2v1h-2zM1226 203h2v1h-2zM236 406h1v1h-1zM679 219h1v1h-1zM814 219h1v1h-1zM1195 219h2v1h-2zM272 365h2v1h-2zM392 265h2v1h-2zM560 265h2v1h-2zM637 265h2v1h-2zM936 265h1v1h-1zM1080 265h2v1h-2zM295 348h1v1h-1zM388 270h1v1h-1zM570 270h1v1h-1zM628 270h2v1h-2zM942 270h1v1h-1zM1072 270h2v1h-2zM371 292h1v1h-1zM972 292h2v1h-2zM1045 292h2v1h-2zM403 259h1v1h-1zM548 259h2v1h-2zM645 259h2v1h-2zM929 259h1v1h-1zM1091 259h3v1h-3zM111 509h1v1h-1zM426 237h2v1h-2zM491 237h3v1h-3zM669 237h1v1h-1zM897 237h2v1h-2zM1119 237h1v1h-1zM135 493h2v1h-2zM196 445h1v1h-1zM360 300h1v1h-1zM986 300h2v1h-2zM1032 300h2v1h-2zM152 483h2v1h-2zM274 364h2v1h-2zM420 242h1v1h-1zM522 242h1v1h-1zM665 242h1v1h-1zM904 242h2v1h-2zM571 271h2v1h-2zM626 271h2v1h-2zM943 271h1v1h-1zM1071 271h1v1h-1zM119 503h1v1h-1zM203 438h1v1h-1zM816 221h1v1h-1zM1140 221h2v1h-2zM1147 221h8v1h-8zM1163 221h6v1h-6zM1192 221h2v1h-2zM259 375h1v1h-1zM161 477h1v1h-1zM283 359h1v1h-1zM49 537h2v1h-2zM369 293h2v1h-2zM974 293h2v1h-2zM1044 293h1v1h-1zM324 332h1v1h-1zM215 425h1v1h-1zM966 288h1v1h-1zM1051 288h1v1h-1zM709 179h1v1h-1zM776 179h1v1h-1zM373 290h2v1h-2zM968 290h2v1h-2zM1048 290h1v1h-1zM564 267h2v1h-2zM634 267h1v1h-1zM938 267h1v1h-1zM1077 267h2v1h-2zM381 280h1v1h-1zM957 280h2v1h-2zM1061 280h1v1h-1zM800 206h1v1h-1zM1213 206h2v1h-2zM1233 206h2v1h-2zM1245 206h6v1h-6zM525 244h2v1h-2zM908 244h2v1h-2zM1113 244h1v1h-1zM168 470h1v1h-1zM462 233h3v1h-3zM477 233h4v1h-4zM859 233h3v1h-3zM876 233h2v1h-2zM883 233h6v1h-6zM1123 233h2v1h-2zM355 303h2v1h-2zM993 303h4v1h-4zM1003 303h8v1h-8zM336 319h1v1h-1zM701 188h1v1h-1zM783 188h1v1h-1zM383 277h1v1h-1zM582 277h5v1h-5zM595 277h8v1h-8zM952 277h2v1h-2zM1064 277h1v1h-1zM81 524h2v1h-2zM331 325h1v1h-1zM281 360h2v1h-2zM297 346h2v1h-2zM523 243h2v1h-2zM906 243h2v1h-2zM1114 243h1v1h-1zM125 499h2v1h-2zM422 240h1v1h-1zM515 240h5v1h-5zM901 240h2v1h-2zM1116 240h1v1h-1zM250 386h1v1h-1zM144 489h1v1h-1zM264 370h2v1h-2zM578 275h2v1h-2zM611 275h6v1h-6zM949 275h2v1h-2zM1066 275h1v1h-1zM310 338h3v1h-3zM241 399h1v1h-1zM35 559h1v1h-1zM404 258h1v1h-1zM546 258h2v1h-2zM647 258h1v1h-1zM928 258h1v1h-1zM1094 258h2v1h-2zM31 566h1v1h-1zM815 220h1v1h-1zM1142 220h5v1h-5zM1194 220h1v1h-1zM737 175h4v1h-4zM766 175h3v1h-3zM190 451h1v1h-1zM27 573h1v1h-1zM313 337h4v1h-4zM229 415h1v1h-1zM808 212h1v1h-1zM1205 212h2v1h-2zM757 172h4v1h-4zM107 511h2v1h-2zM845 230h2v1h-2zM1127 230h1v1h-1zM365 296h2v1h-2zM979 296h2v1h-2zM1040 296h1v1h-1zM197 444h1v1h-1zM413 250h1v1h-1zM533 250h2v1h-2zM658 250h1v1h-1zM917 250h1v1h-1zM1106 250h1v1h-1zM364 297h1v1h-1zM981 297h2v1h-2zM1038 297h2v1h-2zM63 527h4v1h-4zM423 239h1v1h-1zM507 239h8v1h-8zM900 239h1v1h-1zM1117 239h1v1h-1zM209 432h1v1h-1zM804 209h1v1h-1zM1209 209h2v1h-2zM330 326h1v1h-1zM465 232h4v1h-4zM473 232h4v1h-4zM857 232h2v1h-2zM878 232h5v1h-5zM1125 232h1v1h-1zM368 294h1v1h-1zM976 294h2v1h-2zM1043 294h1v1h-1zM417 246h1v1h-1zM528 246h1v1h-1zM662 246h1v1h-1zM912 246h1v1h-1zM1111 246h1v1h-1zM252 383h1v1h-1zM247 390h1v1h-1zM799 205h1v1h-1zM1215 205h1v1h-1zM1230 205h3v1h-3zM1251 205h8v1h-8zM117 504h2v1h-2zM258 376h1v1h-1zM160 478h1v1h-1zM706 182h1v1h-1zM778 182h1v1h-1zM255 379h1v1h-1zM708 180h1v1h-1zM573 272h2v1h-2zM624 272h2v1h-2zM944 272h2v1h-2zM1070 272h1v1h-1zM379 283h1v1h-1zM961 283h1v1h-1zM1057 283h1v1h-1zM262 372h1v1h-1zM56 532h1v1h-1zM351 306h1v1h-1zM796 202h1v1h-1zM1220 202h2v1h-2zM1224 202h2v1h-2zM813 218h1v1h-1zM1197 218h2v1h-2zM296 347h1v1h-1zM389 269h1v1h-1zM568 269h2v1h-2zM630 269h2v1h-2zM941 269h1v1h-1zM1074 269h1v1h-1zM812 217h1v1h-1zM1199 217h1v1h-1zM183 460h1v1h-1zM304 341h2v1h-2zM955 279h2v1h-2zM1062 279h1v1h-1zM151 484h1v1h-1zM91 520h3v1h-3zM162 476h1v1h-1zM201 440h1v1h-1zM819 224h1v1h-1zM1135 224h1v1h-1zM159 479h1v1h-1zM51 536h1v1h-1zM321 334h2v1h-2zM213 427h1v1h-1zM375 289h1v1h-1zM967 289h1v1h-1zM1049 289h2v1h-2zM803 208h1v1h-1zM1211 208h1v1h-1zM1238 208h3v1h-3zM208 433h1v1h-1zM337 318h1v1h-1zM166 472h1v1h-1zM115 506h1v1h-1zM820 225h1v1h-1zM1133 225h2v1h-2zM334 321h1v1h-1zM782 187h1v1h-1zM75 525h6v1h-6zM278 362h2v1h-2zM103 514h1v1h-1zM99 516h2v1h-2zM341 314h1v1h-1zM145 488h2v1h-2zM290 353h1v1h-1zM681 216h1v1h-1zM1200 216h1v1h-1zM821 226h1v1h-1zM835 226h5v1h-5zM1132 226h1v1h-1zM223 420h1v1h-1zM372 291h1v1h-1zM970 291h2v1h-2zM1047 291h1v1h-1zM172 467h1v1h-1zM230 414h1v1h-1zM704 184h1v1h-1zM780 184h1v1h-1zM109 510h2v1h-2zM843 229h2v1h-2zM1128 229h1v1h-1zM354 304h1v1h-1zM997 304h6v1h-6zM301 343h2v1h-2zM195 446h1v1h-1zM269 367h2v1h-2zM89 521h2v1h-2zM187 455h1v1h-1zM683 213h1v1h-1zM809 213h1v1h-1zM1204 213h1v1h-1zM181 461h2v1h-2zM202 439h1v1h-1zM303 342h1v1h-1zM962 284h1v1h-1zM1056 284h1v1h-1zM323 333h1v1h-1zM214 426h1v1h-1zM157 480h2v1h-2zM42 547h1v1h-1zM142 490h2v1h-2zM263 371h1v1h-1zM165 473h1v1h-1zM57 531h2v1h-2zM693 199h1v1h-1zM793 199h1v1h-1zM219 422h2v1h-2zM340 315h1v1h-1zM231 413h1v1h-1zM289 354h1v1h-1zM700 189h1v1h-1zM784 189h1v1h-1zM86 522h3v1h-3zM285 357h2v1h-2zM785 190h1v1h-1zM221 421h2v1h-2zM130 496h1v1h-1zM239 402h1v1h-1zM234 409h1v1h-1zM293 350h1v1h-1zM131 495h2v1h-2zM1201 215h2v1h-2zM300 344h1v1h-1zM194 447h1v1h-1zM167 471h1v1h-1zM116 505h1v1h-1zM786 191h1v1h-1zM280 361h1v1h-1zM257 377h1v1h-1zM198 443h1v1h-1zM47 539h1v1h-1zM342 313h1v1h-1zM707 181h1v1h-1zM807 211h1v1h-1zM1207 211h1v1h-1zM245 393h1v1h-1zM139 491h3v1h-3zM173 466h2v1h-2zM788 194h1v1h-1zM789 195h1v1h-1zM348 308h1v1h-1zM149 485h2v1h-2zM188 454h1v1h-1zM179 462h2v1h-2zM200 441h1v1h-1zM113 507h2v1h-2zM207 434h1v1h-1zM791 197h1v1h-1zM155 481h2v1h-2zM98 517h1v1h-1zM317 336h3v1h-3zM205 436h1v1h-1zM39 552h1v1h-1zM163 475h1v1h-1zM23 580h1v1h-1zM256 378h1v1h-1zM695 196h1v1h-1zM790 196h1v1h-1zM347 309h1v1h-1zM123 500h2v1h-2zM338 317h1v1h-1zM287 356h1v1h-1zM698 192h1v1h-1zM260 374h1v1h-1zM104 513h2v1h-2zM345 310h2v1h-2zM271 366h1v1h-1zM294 349h1v1h-1zM61 528h2v1h-2zM227 416h2v1h-2zM243 396h1v1h-1zM106 512h1v1h-1zM192 449h1v1h-1zM199 442h1v1h-1zM48 538h1v1h-1zM206 435h1v1h-1zM335 320h1v1h-1zM308 339h2v1h-2zM164 474h1v1h-1zM171 468h1v1h-1zM120 502h2v1h-2zM249 387h1v1h-1zM96 518h2v1h-2zM210 431h1v1h-1zM339 316h1v1h-1zM53 534h2v1h-2zM226 417h1v1h-1zM284 358h1v1h-1zM692 200h1v1h-1zM794 200h1v1h-1zM710 178h1v1h-1zM725 178h4v1h-4zM774 178h2v1h-2zM233 410h1v1h-1zM299 345h1v1h-1zM127 498h1v1h-1zM193 448h1v1h-1zM352 305h2v1h-2zM191 450h1v1h-1zM320 335h1v1h-1zM137 492h2v1h-2zM328 329h1v1h-1zM963 285h1v1h-1zM1055 285h1v1h-1zM261 373h1v1h-1zM55 533h1v1h-1zM253 382h1v1h-1zM343 312h1v1h-1zM292 351h1v1h-1zM148 486h1v1h-1zM59 530h1v1h-1zM225 418h1v1h-1zM178 463h1v1h-1zM237 405h1v1h-1zM112 508h1v1h-1zM154 482h1v1h-1zM212 428h1v1h-1zM184 459h1v1h-1zM204 437h1v1h-1zM792 198h1v1h-1z" fill="#ff0000"/>
<path d="M805 252h1v2h-1zM682 181h1v2h-1zM1033 296h1v2h-1zM587 294h1v2h-1zM801 259h1v2h-1zM678 189h1v2h-1zM703 133h1v3h-1zM690 163h1v2h-1zM790 249h1v2h-1zM583 302h1v2h-1zM357 255h1v2h-1zM1069 231h1v2h-1zM1214 176h1v3h-1zM340 287h1v2h-1zM742 186h1v2h-1zM1202 207h1v2h-1zM336 294h1v2h-1zM749 202h1v2h-1zM1032 298h1v2h-1zM724 144h1v3h-1zM782 236h1v2h-1zM725 147h1v3h-1zM200 410h1v2h-1zM332 301h1v2h-1zM1171 232h1v2h-1zM1237 178h1v2h-1zM900 262h1v3h-1zM731 163h1v2h-1zM677 191h1v2h-1zM689 165h1v3h-1zM728 156h1v2h-1zM1251 198h1v2h-1zM800 261h1v2h-1zM611 246h1v2h-1zM376 236h1v2h-1zM889 231h1v3h-1zM738 178h1v2h-1zM312 335h1v2h-1zM595 278h1v2h-1zM697 146h1v2h-1zM607 253h1v2h-1zM673 198h1v2h-1zM1212 182h1v3h-1zM1201 209h1v2h-1zM591 286h1v2h-1zM1046 272h1v2h-1zM669 205h1v2h-1zM1059 247h1v2h-1zM251 339h1v2h-1zM216 381h1v2h-1zM1197 217h1v2h-1zM1209 190h1v3h-1zM1042 279h1v2h-1zM199 412h1v2h-1zM331 303h1v2h-1zM1055 254h1v2h-1zM796 258h1v2h-1zM1261 214h1v2h-1zM1038 286h1v2h-1zM913 290h1v2h-1zM222 372h1v2h-1zM606 255h1v2h-1zM672 200h1v2h-1zM917 296h1v2h-1zM594 280h1v2h-1zM696 148h1v2h-1zM708 122h1v2h-1zM685 175h1v2h-1zM720 132h1v3h-1zM1200 211h1v2h-1zM751 206h1v2h-1zM668 207h1v2h-1zM895 248h1v3h-1zM113 480h1v2h-1zM590 288h1v2h-1zM1235 174h1v2h-1zM548 290h1v2h-1zM1238 180h1v2h-1zM681 183h1v2h-1zM902 267h1v3h-1zM1196 219h1v3h-1zM1208 193h1v3h-1zM1195 222h1v2h-1zM664 214h1v2h-1zM730 160h1v3h-1zM198 414h1v2h-1zM1257 207h1v2h-1zM1054 256h1v2h-1zM246 347h1v2h-1zM736 174h1v2h-1zM909 282h1v2h-1zM737 176h1v2h-1zM326 312h1v2h-1zM1037 288h1v2h-1zM894 245h1v3h-1zM322 320h1v2h-1zM1231 166h1v2h-1zM589 290h1v2h-1zM318 327h1v2h-1zM1207 196h1v3h-1zM1194 224h1v3h-1zM585 298h1v2h-1zM798 261h1v2h-1zM108 488h1v2h-1zM1053 258h1v2h-1zM915 293h1v2h-1zM700 140h1v2h-1zM918 298h1v2h-1zM529 258h1v2h-1zM389 219h1v2h-1zM354 261h1v2h-1zM550 294h1v2h-1zM616 238h1v2h-1zM599 270h1v2h-1zM1193 227h1v2h-1zM1205 201h1v2h-1zM735 172h1v2h-1zM907 278h1v2h-1zM911 286h1v2h-1zM1064 239h1v2h-1zM542 279h1v2h-1zM353 263h1v2h-1zM746 194h1v3h-1zM779 228h1v3h-1zM349 270h1v2h-1zM786 243h1v2h-1zM328 309h1v2h-1zM892 239h1v3h-1zM192 422h1v2h-1zM768 208h1v2h-1zM118 472h1v2h-1zM906 276h1v2h-1zM110 485h1v2h-1zM211 389h1v2h-1zM1216 172h1v2h-1zM171 437h1v2h-1zM816 238h1v2h-1zM712 117h1v2h-1zM713 119h1v2h-1zM207 396h1v2h-1zM811 244h1v2h-1zM540 275h1v2h-1zM684 177h1v2h-1zM744 190h1v2h-1zM541 277h1v2h-1zM544 282h1v2h-1zM745 192h1v2h-1zM323 318h1v2h-1zM602 264h1v2h-1zM692 158h1v2h-1zM784 240h1v2h-1zM704 131h1v2h-1zM1219 168h1v2h-1zM819 234h1v2h-1zM804 254h1v2h-1zM1239 182h1v2h-1zM788 246h1v2h-1zM358 253h1v2h-1zM586 296h1v2h-1zM890 234h1v3h-1zM104 494h1v2h-1zM533 263h1v2h-1zM206 398h1v2h-1zM770 211h1v2h-1zM1050 264h1v2h-1zM601 266h1v2h-1zM802 257h1v2h-1zM691 160h1v3h-1zM382 228h1v2h-1zM597 274h1v2h-1zM1203 205h1v2h-1zM205 400h1v2h-1zM722 138h1v3h-1zM1211 185h1v2h-1zM897 254h1v2h-1zM201 408h1v2h-1zM698 144h1v2h-1zM710 118h1v2h-1zM739 180h1v2h-1zM772 214h1v2h-1zM220 375h1v2h-1zM352 265h1v2h-1zM348 272h1v2h-1zM721 135h1v3h-1zM896 251h1v3h-1zM563 308h1v2h-1zM1254 202h1v2h-1zM748 199h1v3h-1zM1232 168h1v2h-1zM781 233h1v3h-1zM778 226h1v2h-1zM614 241h1v2h-1zM680 185h1v2h-1zM676 193h1v2h-1zM891 237h1v2h-1zM338 290h1v2h-1zM1049 266h1v2h-1zM334 297h1v2h-1zM202 406h1v2h-1zM901 265h1v2h-1zM1245 190h1v2h-1zM613 243h1v2h-1zM679 187h1v2h-1zM584 300h1v2h-1zM330 305h1v2h-1zM1256 205h1v2h-1zM1259 210h1v2h-1zM908 280h1v2h-1zM609 249h1v2h-1zM699 142h1v2h-1zM711 116h1v2h-1zM1065 237h1v2h-1zM605 257h1v2h-1zM695 150h1v3h-1zM1210 187h1v3h-1zM747 197h1v2h-1zM707 124h1v3h-1zM1061 244h1v2h-1zM1233 170h1v2h-1zM1044 276h1v2h-1zM333 299h1v2h-1zM1057 250h1v2h-1zM1040 283h1v2h-1zM329 307h1v2h-1zM732 165h1v3h-1zM1036 290h1v2h-1zM325 314h1v2h-1zM240 355h1v2h-1zM706 127h1v2h-1zM1155 218h1v2h-1zM910 284h1v2h-1zM344 280h1v2h-1zM714 121h1v2h-1zM717 126h1v2h-1zM1035 292h1v2h-1zM545 284h1v2h-1zM693 155h1v3h-1zM705 129h1v2h-1zM727 153h1v3h-1zM359 251h1v2h-1zM598 272h1v2h-1zM1192 229h1v2h-1zM1204 203h1v2h-1zM1067 234h1v2h-1zM537 269h1v2h-1zM741 184h1v2h-1zM774 217h1v2h-1zM1034 294h1v2h-1zM688 168h1v2h-1zM1191 231h1v2h-1zM593 282h1v2h-1zM1199 213h1v2h-1zM385 224h1v2h-1zM726 150h1v3h-1zM1045 274h1v2h-1zM1241 185h1v2h-1zM904 272h1v2h-1zM1041 281h1v2h-1zM596 276h1v2h-1zM608 251h1v2h-1zM674 196h1v2h-1zM539 273h1v2h-1zM687 170h1v3h-1zM536 267h1v2h-1zM743 188h1v2h-1zM592 284h1v2h-1zM740 182h1v2h-1zM670 203h1v2h-1zM776 221h1v2h-1zM1198 215h1v2h-1zM750 204h1v2h-1zM666 210h1v2h-1zM780 231h1v2h-1zM361 248h1v2h-1zM1056 252h1v2h-1zM209 392h1v2h-1zM893 242h1v3h-1zM1152 214h1v2h-1zM665 212h1v2h-1zM702 136h1v2h-1zM106 491h1v2h-1zM356 257h1v2h-1zM1213 179h1v3h-1zM701 138h1v2h-1zM315 331h1v2h-1zM734 170h1v2h-1zM888 228h1v3h-1zM355 259h1v2h-1zM1062 242h1v2h-1zM254 334h1v2h-1zM898 256h1v3h-1zM347 274h1v2h-1zM1260 212h1v2h-1zM912 288h1v2h-1zM507 238h1v2h-1zM547 288h1v2h-1zM350 268h1v2h-1zM253 336h1v2h-1zM1234 172h1v2h-1zM112 482h1v2h-1zM346 276h1v2h-1zM249 342h1v2h-1zM733 168h1v2h-1zM887 226h1v2h-1zM342 283h1v2h-1zM604 259h1v2h-1zM115 477h1v2h-1zM365 243h1v2h-1zM694 153h1v2h-1zM806 250h1v2h-1zM321 322h1v2h-1zM161 449h1v2h-1zM1222 164h1v2h-1zM588 292h1v2h-1zM1248 194h1v2h-1zM208 394h1v2h-1zM1052 260h1v2h-1zM243 351h1v2h-1zM324 316h1v2h-1zM619 234h1v2h-1zM1048 268h1v2h-1zM546 286h1v2h-1zM603 261h1v3h-1zM899 259h1v3h-1zM320 324h1v2h-1zM903 270h1v2h-1zM622 230h1v2h-1zM1051 262h1v2h-1zM538 271h1v2h-1zM775 219h1v2h-1zM1047 270h1v2h-1zM1158 222h1v2h-1zM1070 229h1v2h-1zM379 232h1v2h-1zM716 124h1v2h-1zM117 474h1v2h-1zM709 120h1v2h-1zM723 141h1v3h-1zM214 384h1v2h-1zM905 274h1v2h-1zM792 252h1v2h-1zM777 223h1v3h-1zM683 179h1v2h-1zM822 230h1v2h-1zM783 238h1v2h-1zM213 386h1v2h-1zM248 344h1v2h-1zM729 158h1v2h-1zM1215 174h1v2h-1zM686 173h1v2h-1zM165 444h1v2h-1zM600 268h1v2h-1zM794 255h1v2h-1zM1206 199h1v2h-1zM204 402h1v2h-1zM1236 176h1v2h-1zM549 292h1v2h-1zM203 404h1v2h-1zM195 418h1v2h-1zM719 130h1v2h-1zM218 378h1v2h-1zM345 278h1v2h-1zM341 285h1v2h-1zM718 128h1v2h-1zM337 292h1v2h-1zM554 299h1v1h-1zM989 299h3v1h-3zM1020 299h2v1h-2zM383 227h1v1h-1zM405 227h2v1h-2zM625 227h2v1h-2zM826 227h2v1h-2zM846 227h1v1h-1zM848 227h2v1h-2zM1073 227h4v1h-4zM1164 227h2v1h-2zM401 224h2v1h-2zM629 224h2v1h-2zM832 224h2v1h-2zM842 224h1v1h-1zM853 224h2v1h-2zM859 224h6v1h-6zM882 224h2v1h-2zM1113 224h1v1h-1zM1159 224h1v1h-1zM430 236h1v1h-1zM433 236h4v1h-4zM440 236h2v1h-2zM482 236h2v1h-2zM505 236h1v1h-1zM618 236h1v1h-1zM818 236h1v1h-1zM1066 236h1v1h-1zM1174 236h1v1h-1zM1186 236h1v1h-1zM384 226h1v1h-1zM404 226h1v1h-1zM627 226h1v1h-1zM828 226h2v1h-2zM845 226h1v1h-1zM850 226h1v1h-1zM886 226h1v1h-1zM1077 226h6v1h-6zM1091 226h8v1h-8zM1107 226h5v1h-5zM1162 226h2v1h-2zM577 308h1v1h-1zM927 308h2v1h-2zM937 308h2v1h-2zM950 308h5v1h-5zM975 308h1v1h-1zM667 209h1v1h-1zM1137 209h2v1h-2zM1145 209h2v1h-2zM1258 209h1v1h-1zM56 516h2v1h-2zM916 295h1v1h-1zM998 295h3v1h-3zM1012 295h2v1h-2zM403 225h1v1h-1zM628 225h1v1h-1zM830 225h2v1h-2zM843 225h2v1h-2zM851 225h2v1h-2zM884 225h2v1h-2zM1083 225h8v1h-8zM1099 225h8v1h-8zM1112 225h1v1h-1zM1160 225h2v1h-2zM914 292h1v1h-1zM1006 292h2v1h-2zM462 248h2v1h-2zM516 248h1v1h-1zM610 248h1v1h-1zM789 248h1v1h-1zM808 248h1v1h-1zM287 334h2v1h-2zM313 334h1v1h-1zM390 218h1v1h-1zM392 218h2v1h-2zM637 218h1v1h-1zM1120 218h2v1h-2zM517 249h1v1h-1zM807 249h1v1h-1zM1058 249h1v1h-1zM387 222h1v1h-1zM399 222h1v1h-1zM632 222h1v1h-1zM836 222h2v1h-2zM840 222h1v1h-1zM869 222h11v1h-11zM1115 222h2v1h-2zM752 206h1v1h-1zM765 206h2v1h-2zM671 202h1v1h-1zM757 202h2v1h-2zM760 202h1v1h-1zM327 311h1v1h-1zM565 311h1v1h-1zM571 311h3v1h-3zM962 311h1v1h-1zM971 311h1v1h-1zM388 221h1v1h-1zM397 221h2v1h-2zM633 221h1v1h-1zM838 221h2v1h-2zM1117 221h1v1h-1zM1157 221h1v1h-1zM142 465h2v1h-2zM37 528h2v1h-2zM185 426h2v1h-2zM381 230h1v1h-1zM421 230h3v1h-3zM1169 230h1v1h-1zM1250 197h1v1h-1zM126 468h11v1h-11zM559 304h1v1h-1zM582 304h1v1h-1zM923 304h1v1h-1zM943 304h1v1h-1zM979 304h2v1h-2zM223 371h1v1h-1zM523 254h2v1h-2zM793 254h1v1h-1zM61 513h2v1h-2zM65 513h4v1h-4zM83 513h3v1h-3zM377 235h1v1h-1zM429 235h1v1h-1zM437 235h3v1h-3zM484 235h2v1h-2zM504 235h1v1h-1zM1173 235h1v1h-1zM1187 235h2v1h-2zM144 464h1v1h-1zM362 247h1v1h-1zM459 247h3v1h-3zM464 247h1v1h-1zM515 247h1v1h-1zM809 247h1v1h-1zM63 512h2v1h-2zM86 512h2v1h-2zM556 301h1v1h-1zM920 301h1v1h-1zM983 301h2v1h-2zM395 220h2v1h-2zM634 220h1v1h-1zM1118 220h1v1h-1zM1156 220h1v1h-1zM247 346h1v1h-1zM212 388h1v1h-1zM525 255h2v1h-2zM227 367h1v1h-1zM50 519h2v1h-2zM530 260h1v1h-1zM797 260h1v1h-1zM564 310h1v1h-1zM574 310h2v1h-2zM933 310h3v1h-3zM960 310h2v1h-2zM972 310h1v1h-1zM152 458h1v1h-1zM519 251h1v1h-1zM791 251h1v1h-1zM47 521h1v1h-1zM378 234h1v1h-1zM427 234h2v1h-2zM486 234h18v1h-18zM1172 234h1v1h-1zM1189 234h1v1h-1zM301 339h4v1h-4zM369 240h2v1h-2zM447 240h1v1h-1zM471 240h2v1h-2zM508 240h1v1h-1zM615 240h1v1h-1zM815 240h1v1h-1zM431 237h2v1h-2zM442 237h1v1h-1zM480 237h2v1h-2zM506 237h1v1h-1zM617 237h1v1h-1zM817 237h1v1h-1zM1175 237h2v1h-2zM1185 237h1v1h-1zM233 361h2v1h-2zM363 246h1v1h-1zM457 246h2v1h-2zM465 246h1v1h-1zM514 246h1v1h-1zM810 246h1v1h-1zM1060 246h1v1h-1zM386 223h1v1h-1zM400 223h1v1h-1zM631 223h1v1h-1zM834 223h2v1h-2zM841 223h1v1h-1zM855 223h4v1h-4zM865 223h4v1h-4zM880 223h2v1h-2zM1114 223h1v1h-1zM159 452h1v1h-1zM250 341h1v1h-1zM93 506h1v1h-1zM553 298h1v1h-1zM992 298h2v1h-2zM1018 298h2v1h-2zM759 201h1v1h-1zM1253 201h1v1h-1zM109 487h1v1h-1zM32 532h1v1h-1zM263 325h4v1h-4zM272 325h2v1h-2zM241 354h1v1h-1zM643 213h2v1h-2zM651 213h3v1h-3zM771 213h1v1h-1zM1130 213h1v1h-1zM1151 213h1v1h-1zM22 540h2v1h-2zM14 537h3v1h-3zM26 537h1v1h-1zM394 219h1v1h-1zM635 219h2v1h-2zM1119 219h1v1h-1zM371 239h3v1h-3zM445 239h2v1h-2zM473 239h4v1h-4zM1181 239h3v1h-3zM558 303h1v1h-1zM922 303h1v1h-1zM981 303h1v1h-1zM555 300h1v1h-1zM919 300h1v1h-1zM985 300h4v1h-4zM1022 300h10v1h-10zM177 431h2v1h-2zM417 229h4v1h-4zM623 229h1v1h-1zM823 229h1v1h-1zM1168 229h1v1h-1zM647 211h2v1h-2zM1133 211h2v1h-2zM1148 211h1v1h-1zM451 243h2v1h-2zM468 243h1v1h-1zM511 243h1v1h-1zM812 243h1v1h-1zM528 257h1v1h-1zM795 257h1v1h-1zM426 233h1v1h-1zM620 233h1v1h-1zM820 233h1v1h-1zM1068 233h1v1h-1zM1190 233h1v1h-1zM560 305h1v1h-1zM581 305h1v1h-1zM924 305h1v1h-1zM941 305h2v1h-2zM944 305h2v1h-2zM978 305h1v1h-1zM576 309h1v1h-1zM929 309h4v1h-4zM936 309h1v1h-1zM955 309h5v1h-5zM973 309h2v1h-2zM252 338h1v1h-1zM297 338h4v1h-4zM305 338h4v1h-4zM259 329h1v1h-1zM280 329h1v1h-1zM317 329h1v1h-1zM640 215h2v1h-2zM657 215h4v1h-4zM1126 215h2v1h-2zM221 374h1v1h-1zM552 297h1v1h-1zM994 297h2v1h-2zM1016 297h2v1h-2zM374 238h2v1h-2zM443 238h2v1h-2zM477 238h3v1h-3zM1177 238h4v1h-4zM1184 238h1v1h-1zM407 228h10v1h-10zM624 228h1v1h-1zM824 228h2v1h-2zM847 228h1v1h-1zM1071 228h2v1h-2zM1166 228h2v1h-2zM561 306h1v1h-1zM579 306h2v1h-2zM925 306h1v1h-1zM940 306h1v1h-1zM946 306h2v1h-2zM977 306h1v1h-1zM562 307h1v1h-1zM578 307h1v1h-1zM926 307h1v1h-1zM939 307h1v1h-1zM948 307h2v1h-2zM976 307h1v1h-1zM1003 293h3v1h-3zM1008 293h2v1h-2zM531 261h1v1h-1zM59 514h2v1h-2zM69 514h6v1h-6zM81 514h2v1h-2zM121 470h2v1h-2zM149 460h2v1h-2zM557 302h1v1h-1zM921 302h1v1h-1zM982 302h1v1h-1zM44 523h1v1h-1zM767 207h1v1h-1zM1142 207h2v1h-2zM1139 208h3v1h-3zM1144 208h1v1h-1zM114 479h1v1h-1zM235 360h1v1h-1zM1001 294h2v1h-2zM1010 294h2v1h-2zM176 432h1v1h-1zM105 493h1v1h-1zM639 216h1v1h-1zM661 216h3v1h-3zM773 216h1v1h-1zM1124 216h2v1h-2zM1153 216h1v1h-1zM1262 216h1v1h-1zM151 459h1v1h-1zM367 241h2v1h-2zM448 241h2v1h-2zM470 241h1v1h-1zM509 241h1v1h-1zM814 241h1v1h-1zM1063 241h1v1h-1zM163 447h1v1h-1zM1223 163h2v1h-2zM294 337h3v1h-3zM309 337h3v1h-3zM566 312h1v1h-1zM569 312h2v1h-2zM963 312h2v1h-2zM969 312h2v1h-2zM366 242h1v1h-1zM450 242h1v1h-1zM469 242h1v1h-1zM510 242h1v1h-1zM785 242h1v1h-1zM813 242h1v1h-1zM54 517h2v1h-2zM31 533h1v1h-1zM89 510h1v1h-1zM210 391h1v1h-1zM532 262h1v1h-1zM425 232h1v1h-1zM621 232h1v1h-1zM821 232h1v1h-1zM755 204h1v1h-1zM763 204h1v1h-1zM1255 204h1v1h-1zM39 527h1v1h-1zM17 538h2v1h-2zM25 538h1v1h-1zM257 331h1v1h-1zM283 331h1v1h-1zM19 539h3v1h-3zM24 539h1v1h-1zM228 366h1v1h-1zM535 266h1v1h-1zM335 296h1v1h-1zM551 296h1v1h-1zM996 296h2v1h-2zM1014 296h2v1h-2zM255 333h1v1h-1zM285 333h2v1h-2zM314 333h1v1h-1zM193 421h1v1h-1zM1227 165h3v1h-3zM291 336h3v1h-3zM1221 166h1v1h-1zM1230 166h1v1h-1zM232 362h1v1h-1zM91 508h1v1h-1zM262 326h1v1h-1zM274 326h2v1h-2zM319 326h1v1h-1zM196 417h1v1h-1zM527 256h1v1h-1zM803 256h1v1h-1zM453 244h2v1h-2zM467 244h1v1h-1zM512 244h1v1h-1zM364 245h1v1h-1zM455 245h2v1h-2zM466 245h1v1h-1zM513 245h1v1h-1zM612 245h1v1h-1zM787 245h1v1h-1zM98 501h1v1h-1zM164 446h1v1h-1zM175 433h1v1h-1zM1243 188h1v1h-1zM343 282h1v1h-1zM155 455h2v1h-2zM9 535h2v1h-2zM29 535h1v1h-1zM183 427h2v1h-2zM769 210h1v1h-1zM1135 210h2v1h-2zM1147 210h1v1h-1zM7 534h2v1h-2zM30 534h1v1h-1zM799 263h1v1h-1zM1225 164h2v1h-2zM675 195h1v1h-1zM45 522h2v1h-2zM119 471h2v1h-2zM756 203h1v1h-1zM761 203h2v1h-2zM58 515h1v1h-1zM75 515h6v1h-6zM256 332h1v1h-1zM284 332h1v1h-1zM41 525h2v1h-2zM224 370h1v1h-1zM642 214h1v1h-1zM654 214h3v1h-3zM1128 214h2v1h-2zM215 383h1v1h-1zM90 509h1v1h-1zM645 212h2v1h-2zM649 212h2v1h-2zM1131 212h2v1h-2zM1149 212h2v1h-2zM52 518h2v1h-2zM1039 285h1v1h-1zM168 441h1v1h-1zM239 357h1v1h-1zM97 502h1v1h-1zM180 429h1v1h-1zM534 265h1v1h-1zM567 313h2v1h-2zM965 313h2v1h-2zM968 313h1v1h-1zM101 498h1v1h-1zM181 428h2v1h-2zM139 466h3v1h-3zM35 530h1v1h-1zM267 324h5v1h-5zM226 368h1v1h-1zM391 217h1v1h-1zM638 217h1v1h-1zM1122 217h2v1h-2zM1154 217h1v1h-1zM543 281h1v1h-1zM11 536h3v1h-3zM27 536h2v1h-2zM260 328h1v1h-1zM278 328h2v1h-2zM145 463h2v1h-2zM96 503h1v1h-1zM162 448h1v1h-1zM157 454h1v1h-1zM1218 170h1v1h-1zM48 520h2v1h-2zM190 424h2v1h-2zM244 350h1v1h-1zM103 496h1v1h-1zM258 330h1v1h-1zM281 330h2v1h-2zM316 330h1v1h-1zM137 467h2v1h-2zM1240 184h1v1h-1zM360 250h1v1h-1zM518 250h1v1h-1zM123 469h3v1h-3zM172 436h1v1h-1zM339 289h1v1h-1zM179 430h1v1h-1zM261 327h1v1h-1zM276 327h2v1h-2zM351 267h1v1h-1zM225 369h1v1h-1zM147 462h1v1h-1zM229 365h1v1h-1zM88 511h1v1h-1zM154 456h1v1h-1zM174 434h1v1h-1zM169 440h1v1h-1zM166 443h1v1h-1zM95 504h1v1h-1zM1244 189h1v1h-1zM111 484h1v1h-1zM1217 171h1v1h-1zM102 497h1v1h-1zM36 529h1v1h-1zM160 451h1v1h-1zM380 231h1v1h-1zM424 231h1v1h-1zM1170 231h1v1h-1zM715 123h1v1h-1zM197 416h1v1h-1zM245 349h1v1h-1zM187 425h3v1h-3zM217 380h1v1h-1zM237 358h2v1h-2zM1252 200h1v1h-1zM107 490h1v1h-1zM153 457h1v1h-1zM173 435h1v1h-1zM753 205h2v1h-2zM764 205h1v1h-1zM967 314h1v1h-1zM94 505h1v1h-1zM289 335h2v1h-2zM33 531h2v1h-2zM148 461h1v1h-1zM43 524h1v1h-1zM219 377h1v1h-1zM230 364h1v1h-1zM1242 187h1v1h-1zM167 442h1v1h-1zM116 476h1v1h-1zM1220 167h1v1h-1zM100 499h1v1h-1zM236 359h1v1h-1zM158 453h1v1h-1zM520 252h2v1h-2zM40 526h1v1h-1zM1246 192h1v1h-1zM231 363h1v1h-1zM1043 278h1v1h-1zM1247 193h1v1h-1zM194 420h1v1h-1zM242 353h1v1h-1zM92 507h1v1h-1zM1249 196h1v1h-1zM522 253h1v1h-1zM170 439h1v1h-1zM99 500h1v1h-1z" fill="#ffa500"/>
</g>
<g shape-rendering="crispEdges">
<rect x="7" y="55" width="1592" height="2" fill="#ff0000" />
<rect x="6" y="53" width="6" height="6" fill="#ff0000" />
<rect x="8" y="55" width="2" height="2" fill="#fff" />
<rect x="1593" y="53" width="6" height="6" fill="#ff0000" />
<rect x="1595" y="55" width="2" height="2" fill="#fff" />
<rect x="7" y="120" width="1592" height="2" fill="#ff0000" />
<rect x="6" y="118" width="6" height="6" fill="#ff0000" />
<rect x="8" y="120" width="2" height="2" fill="#fff" />
<rect x="1593" y="118" width="6" height="6" fill="#ff0000" />
<rect x="1595" y="120" width="2" height="2" fill="#fff" />
<rect x="7" y="186" width="1592" height="2" fill="#ff0000" />
<rect x="6" y="184" width="6" height="6" fill="#ff0000" />
<rect x="8" y="186" width="2" height="2" fill="#fff" />
<rect x="1593" y="184" width="6" height="6" fill="#ff0000" />
<rect x="1595" y="186" width="2" height="2" fill="#fff" />
<rect x="7" y="265" width="1592" height="2" fill="#00ff00" />
<rect x="6" y="263" width="6" height="6" fill="#00ff00" />
<rect x="8" y="265" width="2" height="2" fill="#fff" />
<rect x="1593" y="263" width="6" height="6" fill="#00ff00" />
<rect x="1595" y="265" width="2" height="2" fill="#fff" />
<rect x="7" y="342" width="1592" height="2" fill="#0000ff" />
<rect x="6" y="340" width="6" height="6" fill="#0000ff" />
<rect x="8" y="342" width="2" height="2" fill="#fff" />
<rect x="1593" y="340" width="6" height="6" fill="#0000ff" />
<rect x="1595" y="342" width="2" height="2" fill="#fff" />
<path d="M712 611h1v4h-1zM670 617h1v2h-1zM715 621h1v4h-1zM264 608h1v2h-1zM1037 628h1v2h-1zM1033 635h1v2h-1zM665 625h1v2h-1zM1169 631h1v2h-1zM266 611h1v2h-1zM1230 635h1v2h-1zM760 633h1v2h-1zM1224 625h1v2h-1zM764 639h1v2h-1zM711 609h1v2h-1zM717 628h1v3h-1zM762 636h1v2h-1zM1195 624h1v2h-1zM716 625h1v3h-1zM268 614h1v2h-1zM1034 633h1v2h-1zM270 617h1v2h-1zM425 621h1v2h-1zM713 615h1v3h-1zM1036 630h1v2h-1zM1173 636h1v2h-1zM51 623h1v2h-1zM718 631h1v4h-1zM429 626h1v2h-1zM664 627h1v2h-1zM667 622h1v2h-1zM719 635h1v2h-1zM669 619h1v2h-1zM1227 630h1v2h-1zM1225 627h1v2h-1zM1229 633h1v2h-1zM851 634h1v2h-1zM714 618h1v3h-1zM766 642h1v2h-1zM1038 626h1v2h-1zM1032 637h1v2h-1zM227 611h6v1h-6zM333 611h3v1h-3zM366 611h2v1h-2zM705 611h2v1h-2zM510 633h1v1h-1zM584 633h2v1h-2zM737 633h2v1h-2zM749 633h6v1h-6zM806 633h3v1h-3zM852 633h1v1h-1zM859 633h2v1h-2zM1149 633h1v1h-1zM1163 633h1v1h-1zM1170 633h1v1h-1zM1181 633h1v1h-1zM1245 633h2v1h-2zM1259 633h3v1h-3zM513 635h4v1h-4zM575 635h4v1h-4zM734 635h1v1h-1zM761 635h1v1h-1zM802 635h2v1h-2zM813 635h6v1h-6zM825 635h2v1h-2zM837 635h3v1h-3zM863 635h17v1h-17zM1151 635h2v1h-2zM1161 635h1v1h-1zM1172 635h1v1h-1zM1179 635h1v1h-1zM1243 635h1v1h-1zM29 619h2v1h-2zM33 619h2v1h-2zM45 619h3v1h-3zM105 619h2v1h-2zM117 619h4v1h-4zM147 619h1v1h-1zM177 619h2v1h-2zM190 619h2v1h-2zM271 619h1v1h-1zM291 619h13v1h-13zM320 619h1v1h-1zM391 619h1v1h-1zM422 619h2v1h-2zM11 625h3v1h-3zM17 625h4v1h-4zM52 625h1v1h-1zM60 625h2v1h-2zM72 625h2v1h-2zM83 625h1v1h-1zM134 625h3v1h-3zM277 625h1v1h-1zM281 625h1v1h-1zM398 625h1v1h-1zM401 625h2v1h-2zM428 625h1v1h-1zM462 625h3v1h-3zM473 625h2v1h-2zM609 625h2v1h-2zM621 625h6v1h-6zM649 625h1v1h-1zM1039 625h4v1h-4zM1049 625h4v1h-4zM1065 625h2v1h-2zM1075 625h3v1h-3zM1081 625h4v1h-4zM1088 625h1v1h-1zM1110 625h2v1h-2zM1127 625h4v1h-4zM9 624h2v1h-2zM21 624h3v1h-3zM62 624h10v1h-10zM84 624h1v1h-1zM131 624h3v1h-3zM137 624h2v1h-2zM276 624h1v1h-1zM282 624h1v1h-1zM311 624h1v1h-1zM397 624h1v1h-1zM403 624h3v1h-3zM427 624h1v1h-1zM465 624h4v1h-4zM472 624h1v1h-1zM611 624h3v1h-3zM617 624h4v1h-4zM627 624h6v1h-6zM648 624h1v1h-1zM666 624h1v1h-1zM1043 624h6v1h-6zM1067 624h3v1h-3zM1073 624h2v1h-2zM1085 624h3v1h-3zM1112 624h2v1h-2zM1125 624h2v1h-2zM1222 624h2v1h-2zM443 630h3v1h-3zM449 630h4v1h-4zM489 630h4v1h-4zM496 630h2v1h-2zM506 630h1v1h-1zM590 630h3v1h-3zM655 630h4v1h-4zM855 630h1v1h-1zM1095 630h2v1h-2zM1145 630h1v1h-1zM1166 630h1v1h-1zM1168 630h1v1h-1zM1185 630h4v1h-4zM534 639h3v1h-3zM571 639h1v1h-1zM723 639h2v1h-2zM729 639h1v1h-1zM793 639h2v1h-2zM846 639h2v1h-2zM884 639h1v1h-1zM973 639h1v1h-1zM988 639h2v1h-2zM993 639h4v1h-4zM1003 639h8v1h-8zM1029 639h3v1h-3zM1175 639h1v1h-1zM517 636h12v1h-12zM574 636h1v1h-1zM733 636h1v1h-1zM800 636h2v1h-2zM827 636h3v1h-3zM833 636h4v1h-4zM840 636h2v1h-2zM850 636h1v1h-1zM880 636h1v1h-1zM979 636h5v1h-5zM1153 636h4v1h-4zM1160 636h1v1h-1zM1178 636h1v1h-1zM1241 636h2v1h-2zM542 642h2v1h-2zM557 642h2v1h-2zM561 642h4v1h-4zM568 642h1v1h-1zM771 642h3v1h-3zM777 642h4v1h-4zM785 642h2v1h-2zM888 642h2v1h-2zM921 642h4v1h-4zM929 642h2v1h-2zM941 642h4v1h-4zM957 642h4v1h-4zM969 642h1v1h-1zM151 616h2v1h-2zM195 616h2v1h-2zM269 616h1v1h-1zM323 616h2v1h-2zM343 616h4v1h-4zM353 616h2v1h-2zM387 616h2v1h-2zM671 616h10v1h-10zM7 623h2v1h-2zM24 623h1v1h-1zM85 623h2v1h-2zM129 623h2v1h-2zM139 623h3v1h-3zM183 623h1v1h-1zM275 623h1v1h-1zM283 623h2v1h-2zM309 623h2v1h-2zM312 623h2v1h-2zM395 623h2v1h-2zM406 623h5v1h-5zM426 623h1v1h-1zM469 623h3v1h-3zM614 623h3v1h-3zM633 623h2v1h-2zM645 623h3v1h-3zM1070 623h3v1h-3zM1114 623h1v1h-1zM1123 623h2v1h-2zM1196 623h1v1h-1zM1220 623h2v1h-2zM54 627h1v1h-1zM56 627h2v1h-2zM76 627h2v1h-2zM80 627h1v1h-1zM279 627h1v1h-1zM458 627h2v1h-2zM476 627h1v1h-1zM502 627h2v1h-2zM598 627h5v1h-5zM651 627h2v1h-2zM1091 627h1v1h-1zM1105 627h2v1h-2zM1137 627h4v1h-4zM1193 627h1v1h-1zM110 617h3v1h-3zM149 617h2v1h-2zM153 617h4v1h-4zM163 617h13v1h-13zM194 617h1v1h-1zM322 617h1v1h-1zM347 617h6v1h-6zM389 617h1v1h-1zM199 614h2v1h-2zM326 614h1v1h-1zM339 614h2v1h-2zM358 614h3v1h-3zM372 614h2v1h-2zM377 614h2v1h-2zM385 614h1v1h-1zM683 614h3v1h-3zM14 626h3v1h-3zM53 626h1v1h-1zM58 626h2v1h-2zM74 626h2v1h-2zM81 626h2v1h-2zM278 626h1v1h-1zM280 626h1v1h-1zM399 626h2v1h-2zM460 626h2v1h-2zM475 626h1v1h-1zM603 626h6v1h-6zM650 626h1v1h-1zM1053 626h12v1h-12zM1078 626h3v1h-3zM1089 626h2v1h-2zM1107 626h3v1h-3zM1131 626h6v1h-6zM1194 626h1v1h-1zM547 645h2v1h-2zM553 645h2v1h-2zM893 645h2v1h-2zM909 645h1v1h-1zM539 641h3v1h-3zM559 641h2v1h-2zM569 641h1v1h-1zM727 641h1v1h-1zM765 641h1v1h-1zM774 641h3v1h-3zM787 641h3v1h-3zM887 641h1v1h-1zM925 641h4v1h-4zM970 641h1v1h-1zM1019 641h6v1h-6zM537 640h2v1h-2zM570 640h1v1h-1zM725 640h2v1h-2zM728 640h1v1h-1zM790 640h3v1h-3zM885 640h2v1h-2zM971 640h2v1h-2zM990 640h3v1h-3zM1011 640h8v1h-8zM1025 640h4v1h-4zM205 612h22v1h-22zM329 612h4v1h-4zM336 612h2v1h-2zM363 612h3v1h-3zM368 612h2v1h-2zM382 612h2v1h-2zM699 612h6v1h-6zM31 618h2v1h-2zM107 618h3v1h-3zM113 618h4v1h-4zM148 618h1v1h-1zM157 618h6v1h-6zM176 618h1v1h-1zM192 618h2v1h-2zM321 618h1v1h-1zM390 618h1v1h-1zM25 622h2v1h-2zM50 622h1v1h-1zM87 622h4v1h-4zM126 622h3v1h-3zM142 622h2v1h-2zM181 622h2v1h-2zM184 622h2v1h-2zM274 622h1v1h-1zM285 622h1v1h-1zM307 622h2v1h-2zM314 622h2v1h-2zM394 622h1v1h-1zM411 622h6v1h-6zM635 622h3v1h-3zM641 622h4v1h-4zM1115 622h2v1h-2zM1122 622h1v1h-1zM1197 622h1v1h-1zM1205 622h4v1h-4zM1218 622h2v1h-2zM531 638h3v1h-3zM572 638h1v1h-1zM722 638h1v1h-1zM730 638h1v1h-1zM763 638h1v1h-1zM795 638h3v1h-3zM844 638h2v1h-2zM848 638h1v1h-1zM883 638h1v1h-1zM974 638h1v1h-1zM986 638h2v1h-2zM997 638h6v1h-6zM1174 638h1v1h-1zM1176 638h1v1h-1zM1235 638h5v1h-5zM55 628h1v1h-1zM78 628h2v1h-2zM430 628h1v1h-1zM435 628h6v1h-6zM456 628h2v1h-2zM477 628h2v1h-2zM500 628h2v1h-2zM504 628h1v1h-1zM595 628h3v1h-3zM653 628h1v1h-1zM1092 628h1v1h-1zM1101 628h4v1h-4zM1141 628h3v1h-3zM1192 628h1v1h-1zM201 613h4v1h-4zM267 613h1v1h-1zM327 613h2v1h-2zM338 613h1v1h-1zM361 613h2v1h-2zM370 613h2v1h-2zM379 613h3v1h-3zM384 613h1v1h-1zM686 613h13v1h-13zM28 620h1v1h-1zM35 620h3v1h-3zM41 620h4v1h-4zM48 620h1v1h-1zM99 620h6v1h-6zM121 620h2v1h-2zM145 620h2v1h-2zM179 620h1v1h-1zM188 620h2v1h-2zM272 620h1v1h-1zM287 620h4v1h-4zM304 620h2v1h-2zM318 620h2v1h-2zM392 620h1v1h-1zM419 620h3v1h-3zM424 620h1v1h-1zM1119 620h1v1h-1zM1199 620h2v1h-2zM1213 620h3v1h-3zM529 637h2v1h-2zM573 637h1v1h-1zM720 637h2v1h-2zM731 637h2v1h-2zM798 637h2v1h-2zM830 637h3v1h-3zM842 637h2v1h-2zM849 637h1v1h-1zM881 637h2v1h-2zM975 637h4v1h-4zM984 637h2v1h-2zM1157 637h3v1h-3zM1177 637h1v1h-1zM1231 637h4v1h-4zM1240 637h1v1h-1zM446 631h3v1h-3zM493 631h3v1h-3zM507 631h2v1h-2zM588 631h2v1h-2zM742 631h3v1h-3zM854 631h1v1h-1zM856 631h2v1h-2zM1146 631h1v1h-1zM1165 631h1v1h-1zM1183 631h2v1h-2zM1251 631h6v1h-6zM509 632h1v1h-1zM586 632h2v1h-2zM739 632h3v1h-3zM745 632h4v1h-4zM755 632h5v1h-5zM853 632h1v1h-1zM858 632h1v1h-1zM1035 632h1v1h-1zM1147 632h2v1h-2zM1164 632h1v1h-1zM1182 632h1v1h-1zM1228 632h1v1h-1zM1247 632h4v1h-4zM1257 632h2v1h-2zM233 610h2v1h-2zM265 610h1v1h-1zM707 610h3v1h-3zM27 621h1v1h-1zM38 621h3v1h-3zM49 621h1v1h-1zM91 621h8v1h-8zM123 621h3v1h-3zM144 621h1v1h-1zM180 621h1v1h-1zM186 621h2v1h-2zM273 621h1v1h-1zM286 621h1v1h-1zM306 621h1v1h-1zM316 621h2v1h-2zM393 621h1v1h-1zM417 621h2v1h-2zM638 621h3v1h-3zM668 621h1v1h-1zM1117 621h2v1h-2zM1120 621h2v1h-2zM1198 621h1v1h-1zM1201 621h4v1h-4zM1209 621h4v1h-4zM1216 621h2v1h-2zM902 650h2v1h-2zM544 643h2v1h-2zM556 643h1v1h-1zM565 643h3v1h-3zM769 643h2v1h-2zM781 643h4v1h-4zM890 643h1v1h-1zM911 643h10v1h-10zM931 643h3v1h-3zM937 643h4v1h-4zM945 643h4v1h-4zM953 643h4v1h-4zM961 643h4v1h-4zM968 643h1v1h-1zM549 646h2v1h-2zM552 646h1v1h-1zM895 646h1v1h-1zM907 646h2v1h-2zM241 607h2v1h-2zM251 607h3v1h-3zM259 607h5v1h-5zM546 644h1v1h-1zM555 644h1v1h-1zM767 644h2v1h-2zM891 644h2v1h-2zM910 644h1v1h-1zM934 644h3v1h-3zM949 644h4v1h-4zM965 644h3v1h-3zM197 615h2v1h-2zM325 615h1v1h-1zM341 615h2v1h-2zM355 615h3v1h-3zM374 615h3v1h-3zM386 615h1v1h-1zM681 615h2v1h-2zM431 629h4v1h-4zM441 629h2v1h-2zM453 629h3v1h-3zM479 629h10v1h-10zM498 629h2v1h-2zM505 629h1v1h-1zM593 629h2v1h-2zM654 629h1v1h-1zM659 629h5v1h-5zM1093 629h2v1h-2zM1097 629h4v1h-4zM1144 629h1v1h-1zM1167 629h1v1h-1zM1189 629h3v1h-3zM1226 629h1v1h-1zM511 634h2v1h-2zM579 634h5v1h-5zM735 634h2v1h-2zM804 634h2v1h-2zM809 634h4v1h-4zM819 634h6v1h-6zM861 634h2v1h-2zM1150 634h1v1h-1zM1162 634h1v1h-1zM1171 634h1v1h-1zM1180 634h1v1h-1zM1244 634h1v1h-1zM1262 634h2v1h-2zM900 649h2v1h-2zM904 649h1v1h-1zM238 608h3v1h-3zM254 608h5v1h-5zM551 647h1v1h-1zM896 647h2v1h-2zM906 647h1v1h-1zM235 609h3v1h-3zM710 609h1v1h-1zM243 606h3v1h-3zM249 606h2v1h-2zM246 605h3v1h-3zM898 648h2v1h-2zM905 648h1v1h-1z" fill="#1e90ff"/>
<path d="M91 721h3v1h-3zM97 721h3v1h-3zM103 721h3v1h-3zM499 721h2v1h-2zM723 721h1v1h-1zM727 721h3v1h-3zM747 721h1v1h-1zM751 721h2v1h-2zM157 717h3v1h-3zM487 717h2v1h-2zM13 740h2v1h-2zM553 740h1v1h-1zM667 740h2v1h-2zM789 740h1v1h-1zM1129 740h2v1h-2zM1189 740h3v1h-3zM1195 740h3v1h-3zM1201 740h3v1h-3zM1207 740h3v1h-3zM37 729h1v1h-1zM697 729h2v1h-2zM771 729h1v1h-1zM589 755h3v1h-3zM619 755h3v1h-3zM825 755h1v1h-1zM1087 755h1v1h-1zM955 777h3v1h-3zM1021 777h3v1h-3zM391 698h3v1h-3zM397 698h3v1h-3zM403 698h3v1h-3zM409 698h3v1h-3zM415 698h3v1h-3zM421 698h3v1h-3zM147 718h1v1h-1zM151 718h3v1h-3zM489 718h1v1h-1zM205 712h3v1h-3zM469 712h3v1h-3zM811 750h1v1h-1zM19 736h2v1h-2zM679 736h2v1h-2zM1237 736h3v1h-3zM1243 736h3v1h-3zM1249 736h3v1h-3zM1255 736h3v1h-3zM261 701h1v1h-1zM265 701h2v1h-2zM301 701h3v1h-3zM379 701h2v1h-2zM439 701h2v1h-2zM249 704h1v1h-1zM325 704h3v1h-3zM355 704h3v1h-3zM361 704h2v1h-2zM446 704h2v1h-2zM548 738h2v1h-2zM673 738h2v1h-2zM787 738h1v1h-1zM1141 738h3v1h-3zM1147 738h3v1h-3zM1153 738h3v1h-3zM1159 738h3v1h-3zM1165 738h3v1h-3zM1171 738h3v1h-3zM1177 738h2v1h-2zM1219 738h3v1h-3zM1225 738h2v1h-2zM835 758h3v1h-3zM867 758h1v1h-1zM871 758h3v1h-3zM877 758h3v1h-3zM883 758h3v1h-3zM889 758h3v1h-3zM895 758h2v1h-2zM1081 758h1v1h-1zM31 731h2v1h-2zM535 731h1v1h-1zM691 731h3v1h-3zM775 731h1v1h-1zM967 780h3v1h-3zM987 780h1v1h-1zM991 780h3v1h-3zM997 780h3v1h-3zM123 719h1v1h-1zM127 719h3v1h-3zM133 719h3v1h-3zM139 719h3v1h-3zM145 719h2v1h-2zM493 719h1v1h-1zM235 706h3v1h-3zM241 706h2v1h-2zM451 706h3v1h-3zM15 739h1v1h-1zM669 739h1v1h-1zM788 739h1v1h-1zM1131 739h1v1h-1zM1135 739h3v1h-3zM1179 739h1v1h-1zM1183 739h3v1h-3zM1213 739h3v1h-3zM75 722h1v1h-1zM79 722h3v1h-3zM85 722h3v1h-3zM501 722h1v1h-1zM717 722h1v1h-1zM721 722h2v1h-2zM753 722h1v1h-1zM566 746h2v1h-2zM645 746h1v1h-1zM801 746h1v1h-1zM1111 746h2v1h-2zM243 705h1v1h-1zM247 705h2v1h-2zM331 705h3v1h-3zM337 705h3v1h-3zM343 705h3v1h-3zM349 705h3v1h-3zM43 726h3v1h-3zM517 726h3v1h-3zM705 726h1v1h-1zM961 778h2v1h-2zM1011 778h1v1h-1zM1015 778h3v1h-3zM703 727h2v1h-2zM769 727h1v1h-1zM267 700h1v1h-1zM271 700h3v1h-3zM277 700h3v1h-3zM283 700h3v1h-3zM289 700h3v1h-3zM295 700h3v1h-3zM381 700h1v1h-1zM433 700h3v1h-3zM385 699h3v1h-3zM427 699h3v1h-3zM21 735h1v1h-1zM542 735h2v1h-2zM681 735h1v1h-1zM782 735h2v1h-2zM1261 735h3v1h-3zM49 725h2v1h-2zM513 725h1v1h-1zM709 725h1v1h-1zM763 725h3v1h-3zM577 751h2v1h-2zM632 751h2v1h-2zM812 751h2v1h-2zM1094 751h2v1h-2zM51 724h1v1h-1zM55 724h3v1h-3zM511 724h2v1h-2zM710 724h2v1h-2zM199 713h3v1h-3zM475 713h2v1h-2zM163 716h3v1h-3zM169 716h2v1h-2zM483 716h1v1h-1zM847 760h3v1h-3zM853 760h3v1h-3zM901 760h1v1h-1zM1075 760h3v1h-3zM583 753h2v1h-2zM627 753h1v1h-1zM817 753h3v1h-3zM109 720h3v1h-3zM115 720h3v1h-3zM121 720h2v1h-2zM494 720h2v1h-2zM733 720h3v1h-3zM739 720h3v1h-3zM745 720h2v1h-2zM907 762h2v1h-2zM1070 762h2v1h-2zM61 723h3v1h-3zM67 723h3v1h-3zM73 723h2v1h-2zM505 723h3v1h-3zM715 723h2v1h-2zM757 723h3v1h-3zM253 703h3v1h-3zM315 703h1v1h-1zM319 703h3v1h-3zM363 703h1v1h-1zM367 703h3v1h-3zM445 703h1v1h-1zM643 747h2v1h-2zM805 747h1v1h-1zM1105 747h3v1h-3zM171 715h1v1h-1zM175 715h3v1h-3zM181 715h3v1h-3zM187 715h3v1h-3zM481 715h2v1h-2zM259 702h2v1h-2zM307 702h3v1h-3zM313 702h2v1h-2zM373 702h3v1h-3zM441 702h1v1h-1zM963 779h1v1h-1zM1003 779h3v1h-3zM1009 779h2v1h-2zM595 756h3v1h-3zM601 756h2v1h-2zM613 756h3v1h-3zM829 756h1v1h-1zM38 728h2v1h-2zM523 728h3v1h-3zM699 728h1v1h-1zM770 728h1v1h-1zM931 769h3v1h-3zM1051 769h3v1h-3zM565 745h1v1h-1zM649 745h3v1h-3zM799 745h2v1h-2zM1113 745h1v1h-1zM547 737h1v1h-1zM675 737h1v1h-1zM1227 737h1v1h-1zM1231 737h3v1h-3zM841 759h3v1h-3zM859 759h3v1h-3zM865 759h2v1h-2zM897 759h1v1h-1zM229 707h3v1h-3zM33 730h1v1h-1zM529 730h3v1h-3zM193 714h3v1h-3zM477 714h1v1h-1zM925 767h3v1h-3zM1057 767h2v1h-2zM585 754h1v1h-1zM625 754h2v1h-2zM823 754h2v1h-2zM1088 754h2v1h-2zM27 732h1v1h-1zM536 732h2v1h-2zM776 732h2v1h-2zM554 741h2v1h-2zM662 741h2v1h-2zM1123 741h3v1h-3zM603 757h1v1h-1zM607 757h3v1h-3zM830 757h2v1h-2zM1082 757h2v1h-2zM213 710h1v1h-1zM217 710h2v1h-2zM463 710h2v1h-2zM937 771h3v1h-3zM1045 771h3v1h-3zM572 749h2v1h-2zM637 749h1v1h-1zM1099 749h3v1h-3zM973 781h3v1h-3zM979 781h3v1h-3zM985 781h2v1h-2zM8 743h2v1h-2zM559 743h2v1h-2zM657 743h1v1h-1zM794 743h2v1h-2zM1118 743h2v1h-2zM944 773h2v1h-2zM1035 773h1v1h-1zM1039 773h2v1h-2zM571 748h1v1h-1zM638 748h2v1h-2zM806 748h2v1h-2zM919 765h2v1h-2zM1063 765h2v1h-2zM225 708h1v1h-1zM457 708h2v1h-2zM949 775h1v1h-1zM1027 775h3v1h-3zM913 764h3v1h-3zM1065 764h1v1h-1zM579 752h1v1h-1zM631 752h1v1h-1zM1093 752h1v1h-1zM661 742h1v1h-1zM793 742h1v1h-1zM25 733h2v1h-2zM686 733h2v1h-2zM902 761h2v1h-2zM909 763h1v1h-1zM1069 763h1v1h-1zM219 709h1v1h-1zM223 709h2v1h-2zM459 709h1v1h-1zM7 744h1v1h-1zM561 744h1v1h-1zM655 744h2v1h-2zM1117 744h1v1h-1zM1033 774h2v1h-2zM950 776h2v1h-2zM211 711h2v1h-2zM465 711h1v1h-1zM541 734h1v1h-1zM685 734h1v1h-1zM781 734h1v1h-1zM943 772h1v1h-1zM1041 772h1v1h-1zM921 766h1v1h-1zM1059 766h1v1h-1z" fill="#ff0000"/>
<rect x="1600" y="50" width="2" height="1" fill="#000" />
<rect x="1600" y="83" width="2" height="1" fill="#000" />
<rect x="1600" y="116" width="2" height="1" fill="#000" />
<rect x="1600" y="149" width="2" height="1" fill="#000" />
<rect x="1600" y="182" width="2" height="1" fill="#000" />
<rect x="1600" y="215" width="2" height="1" fill="#000" />
<rect x="1600" y="248" width="2" height="1" fill="#000" />
<rect x="1600" y="281" width="2" height="1" fill="#000" />
<rect x="1600" y="314" width="2" height="1" fill="#000" />
<rect x="1600" y="347" width="2" height="1" fill="#000" />
<rect x="1600" y="380" width="2" height="1" fill="#000" />
<rect x="1600" y="413" width="2" height="1" fill="#000" />
<rect x="1600" y="446" width="2" height="1" fill="#000" />
<rect x="1600" y="479" width="2" height="1" fill="#000" />
<rect x="1600" y="512" width="2" height="1" fill="#000" />
<rect x="1600" y="545" width="2" height="1" fill="#000" />
<rect x="1600" y="578" width="2" height="1" fill="#000" />
<rect x="7" y="789" width="1" height="3" fill="#000" />
<rect x="71" y="789" width="1" height="3" fill="#000" />
<rect x="135" y="789" width="1" height="3" fill="#000" />
<rect x="199" y="789" width="1" height="3" fill="#000" />
<rect x="263" y="789" width="1" height="3" fill="#000" />
<rect x="327" y="789" width="1" height="3" fill="#000" />
<rect x="391" y="789" width="1" height="3" fill="#000" />
<rect x="455" y="789" width="1" height="3" fill="#000" />
<rect x="519" y="789" width="1" height="3" fill="#000" />
<rect x="583" y="789" width="1" height="3" fill="#000" />
<rect x="647" y="789" width="1" height="3" fill="#000" />
<rect x="711" y="789" width="1" height="3" fill="#000" />
<rect x="775" y="789" width="1" height="3" fill="#000" />
<rect x="839" y="789" width="1" height="3" fill="#000" />
<rect x="903" y="789" width="1" height="3" fill="#000" />
<rect x="967" y="789" width="1" height="3" fill="#000" />
<rect x="1031" y="789" width="1" height="3" fill="#000" />
<rect x="1095" y="789" width="1" height="3" fill="#000" />
<rect x="1159" y="789" width="1" height="3" fill="#000" />
<rect x="1223" y="789" width="1" height="3" fill="#000" />
</g>
<text class="s d" x="1605" y="53.5">0.80100</text>
<text class="s d" x="1605" y="86.5">0.79590</text>
<text class="s d" x="1605" y="119.5">0.79095</text>
<text class="s d" x="1605" y="152.5">0.78585</text>
<text class="s d" x="1605" y="185.5">0.78090</text>
<text class="s d" x="1605" y="218.5">0.77580</text>
<text class="s d" x="1605" y="251.5">0.77070</text>
<text class="s d" x="1605" y="284.5">0.76575</text>
<text class="s d" x="1605" y="317.5">0.76065</text>
<text class="s d" x="1605" y="350.5">0.75570</text>
<text class="s d" x="1605" y="383.5">0.75060</text>
<text class="s d" x="1605" y="416.5">0.74565</text>
<text class="s d" x="1605" y="449.5">0.74055</text>
<text class="s d" x="1605" y="482.5">0.73545</text>
<text class="s d" x="1605" y="515.5">0.73035</text>
<text class="s d" x="1605" y="548.5">0.72540</text>
<text class="s d" x="1605" y="581.5">0.72045</text>
<text class="s d" x="1603" y="594">100</text>
<text class="s d" x="1603" y="618">70</text>
<text class="s d" x="1603" y="658">30</text>
<text class="s d" x="1603" y="682">0</text>
<text class="s d" x="1603" y="698">0.008782</text>
<text class="s d" x="1603" y="758">0.00</text>
<text class="s d" x="1603" y="785">-0.004451</text>
<g shape-rendering="crispEdges">
<rect x="1601" y="50" width="41" height="11" fill="#ff0000" />
<rect x="1601" y="115" width="41" height="11" fill="#ff0000" />
<rect x="1601" y="181" width="41" height="11" fill="#ff0000" />
<rect x="1601" y="260" width="41" height="11" fill="#00ff00" />
<rect x="1601" y="337" width="41" height="11" fill="#0000ff" />
<rect x="1601" y="213" width="41" height="11" fill="#000000" />
</g>
<text class="s d w" x="1605" y="59">0.80009</text>
<text class="s d w" x="1605" y="124">0.79012</text>
<text class="s d w" x="1605" y="190">0.78014</text>
<text class="s d w" x="1605" y="269">0.76809</text>
<text class="s d w" x="1605" y="346">0.75624</text>
<text class="s d w" x="1605" y="222">0.77540</text>
<polygon points="10,32 17,32 13.5,36" fill="#000"/>
<text class="s" x="22.8" y="37" textLength="65.5" lengthAdjust="spacingAndGlyphs">AUDUSD,Daily</text>
<text class="s d" x="93.8" y="37">0.77772</text>
<text class="s d" x="129.6" y="37">0.77821</text>
<text class="s d" x="165.6" y="37">0.77500</text>
<text class="s d" x="201.7" y="37">0.77540</text>
<text class="s d" x="11" y="596">RSI(14) 49.7120</text>
<text class="s" x="11" y="700" textLength="148" lengthAdjust="spacingAndGlyphs">MACD(12,26,9) 0.001580 0.002507</text>
<text class="s" x="6.5" y="801" style="letter-spacing:-0.04px">12 Nov 2020</text>
<text class="s" x="70.5" y="801" style="letter-spacing:-0.04px">21 Nov 2020</text>
<text class="s" x="134.5" y="801" style="letter-spacing:-0.04px">1 Dec 2020</text>
<text class="s" x="198.5" y="801" style="letter-spacing:-0.04px">10 Dec 2020</text>
<text class="s" x="262.5" y="801" style="letter-spacing:-0.04px">19 Dec 2020</text>
<text class="s" x="326.5" y="801" style="letter-spacing:-0.04px">30 Dec 2020</text>
<text class="s" x="390.5" y="801" style="letter-spacing:-0.04px">9 Jan 2021</text>
<text class="s" x="454.5" y="801" style="letter-spacing:-0.04px">19 Jan 2021</text>
<text class="s" x="518.5" y="801" style="letter-spacing:-0.04px">28 Jan 2021</text>
<text class="s" x="582.5" y="801" style="letter-spacing:-0.04px">6 Feb 2021</text>
<text class="s" x="646.5" y="801" style="letter-spacing:-0.04px">16 Feb 2021</text>
<text class="s" x="710.5" y="801" style="letter-spacing:-0.04px">25 Feb 2021</text>
<text class="s" x="774.5" y="801" style="letter-spacing:-0.04px">6 Mar 2021</text>
<text class="s" x="838.5" y="801" style="letter-spacing:-0.04px">16 Mar 2021</text>
<text class="s" x="902.5" y="801" style="letter-spacing:-0.04px">25 Mar 2021</text>
<text class="s" x="966.5" y="801" style="letter-spacing:-0.04px">3 Apr 2021</text>
<text class="s" x="1030.5" y="801" style="letter-spacing:-0.04px">13 Apr 2021</text>
<text class="s" x="1094.5" y="801" style="letter-spacing:-0.04px">22 Apr 2021</text>
<text class="s" x="1158.5" y="801" style="letter-spacing:-0.04px">1 May 2021</text>
<text class="s" x="1222.5" y="801" style="letter-spacing:-0.04px">11 May 2021</text>
<text class="tb" x="46.6" y="13">M1</text>
<text class="tb" x="74.5" y="13">M5</text>
<text class="tb" x="100.5" y="13">M15</text>
<text class="tb" x="128.6" y="13">M30</text>
<text class="tb" x="159.6" y="13">H1</text>
<text class="tb" x="186.5" y="13">H4</text>
<text class="tb" x="215.6" y="13">D1</text>
<text class="tb" x="243.2" y="13">W1</text>
<text class="tb" x="269.8" y="13">MN</text>
<g fill="#4a4a4a"><polygon points="2.5,2.9 6,6.6 3.8,6.6 3.8,7.8 1.2,7.8 1.2,6.6 0,6.6 0,5.4"/><polygon points="8.2,11 11,11 11,12.2 13.1,12.2 9.55,16.1 6,12.2 8.2,12.2"/></g>
<polyline points="1.2,10.4 3.5,12.7 7.8,7.3" fill="none" stroke="#4a4a4a" stroke-width="1.3"/>
<polygon points="19.7,8.1 25.2,8.1 22.45,11.1" fill="#000"/>
<g shape-rendering="crispEdges">
<rect x="2" y="811" width="1642" height="1" fill="#000" />
<rect x="0" y="812" width="1642" height="18" fill="#f0f0f0" />
<rect x="4" y="812" width="1642" height="1" fill="#ffffff" />
<rect x="3" y="812" width="1" height="18" fill="#696969" />
<rect x="0" y="831" width="1642" height="1" fill="#fbfbfb" />
<rect x="212" y="811" width="104" height="19" fill="#fff" />
<rect x="212" y="811" width="1" height="19" fill="#000" />
<rect x="315" y="811" width="1" height="19" fill="#000" />
<rect x="212" y="829" width="104" height="1" fill="#000" />
<rect x="214" y="830" width="103" height="1" fill="#d4d4d4" />
<rect x="316" y="813" width="1" height="17" fill="#d4d4d4" />
<rect x="112" y="814" width="1" height="14" fill="#606060" />
<rect x="420" y="814" width="1" height="14" fill="#606060" />
<rect x="524" y="814" width="1" height="14" fill="#606060" />
<rect x="628" y="814" width="1" height="14" fill="#606060" />
<rect x="732" y="814" width="1" height="14" fill="#606060" />
<rect x="824" y="814" width="1" height="14" fill="#606060" />
<rect x="908" y="814" width="1" height="14" fill="#606060" />
<rect x="988" y="814" width="1" height="14" fill="#606060" />
<rect x="1068" y="814" width="1" height="14" fill="#606060" />
<rect x="1148" y="814" width="1" height="14" fill="#606060" />
<rect x="1224" y="814" width="1" height="14" fill="#606060" />
<rect x="1296" y="814" width="1" height="14" fill="#606060" />
<rect x="1380" y="814" width="1" height="14" fill="#606060" />
<rect x="1476" y="814" width="1" height="14" fill="#606060" />
<rect x="1576" y="814" width="1" height="14" fill="#606060" />
</g>
<text class="tab" x="20" y="826">EURUSD,Daily</text>
<text class="tab" x="122.3" y="826">USDCHF,Daily</text>
<text class="tab" x="327.4" y="826">USDCAD,Daily</text>
<text class="tab" x="430.2" y="826">USDCNH,Daily</text>
<text class="tab" x="536.3" y="826">EURUSD,Daily</text>
<text class="tab" x="639.9" y="826">GBPUSD,Daily</text>
<text class="tab" x="743.2" y="826">XAUUSD,H4</text>
<text class="tab" x="836.6" y="826">HK50,M15</text>
<text class="tab" x="919.4" y="826">UK100,H1</text>
<text class="tab" x="999.5" y="826">UK100,H1</text>
<text class="tab" x="1079.3" y="826">GER30,H1</text>
<text class="tab" x="1158.6" y="826">FRA40,H1</text>
<text class="tab" x="1234.3" y="826">USOil,H1</text>
<text class="tab" x="1306.4" y="826">USDJPY,H1</text>
<text class="tab" x="1391.3" y="826">DJ30,Weekly</text>
<text class="tab" x="1485.9" y="826">CHINA300,H1</text>
<defs><clipPath id="ct"><rect x="1580" y="812" width="29" height="18"/></clipPath></defs>
<text class="tab" x="1586.4" y="826" clip-path="url(#ct)">USC</text>
<text class="tab" x="223.3" y="826" style="fill:#000">AUDUSD,Daily</text>
<polygon points="1618.6,816.8 1618.6,823.2 1614.6,820" fill="#909090"/>
<polygon points="1633.8,816.8 1633.8,823.4 1637.6,820.1" fill="#000"/>
</svg></body></html>
